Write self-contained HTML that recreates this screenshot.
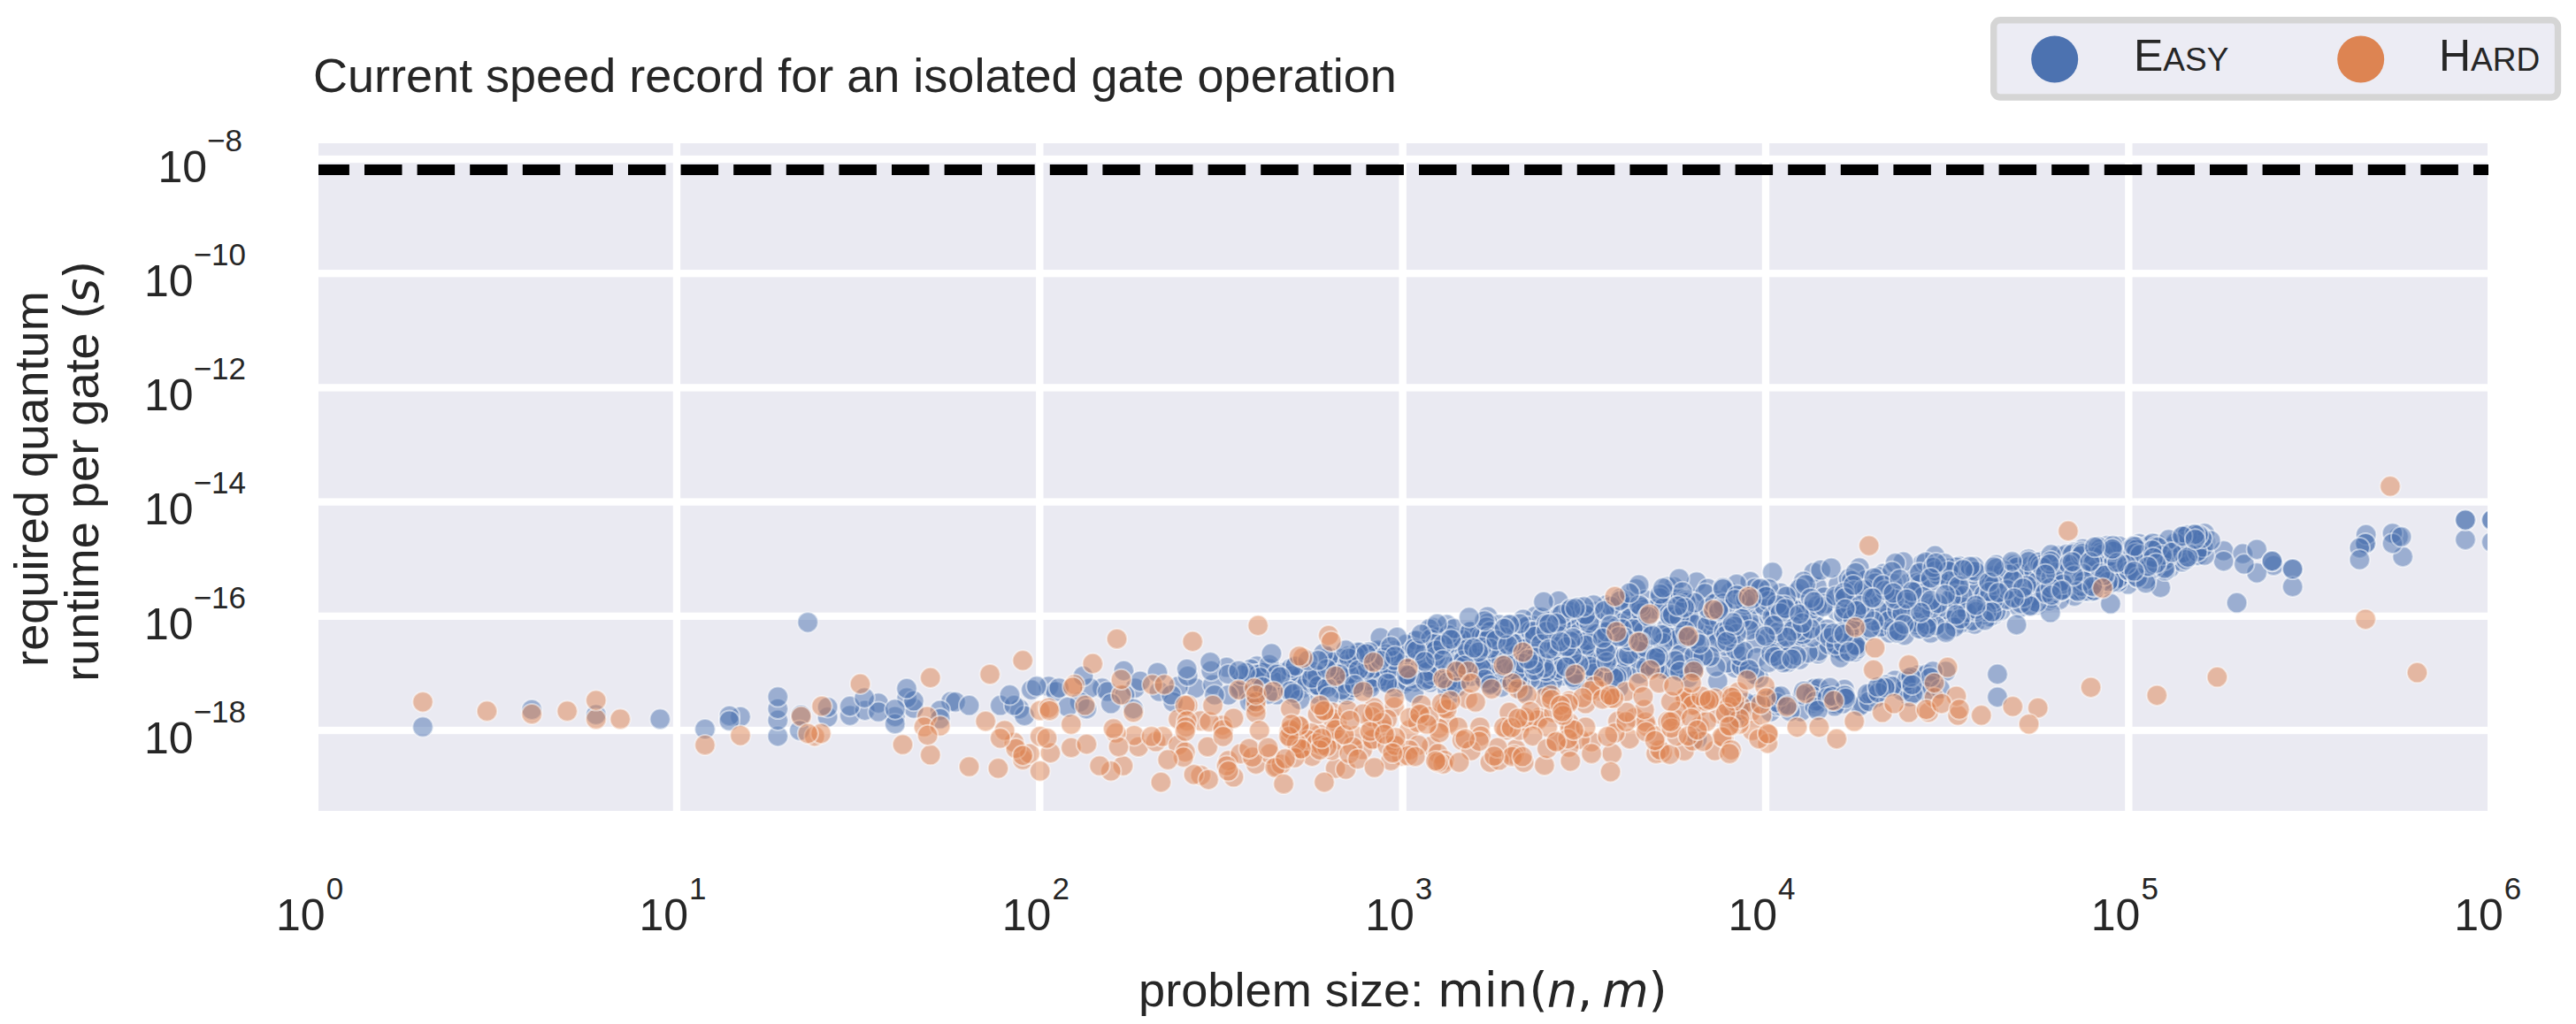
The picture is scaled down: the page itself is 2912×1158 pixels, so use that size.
<!DOCTYPE html>
<html><head><meta charset="utf-8"><style>
html,body{margin:0;padding:0;background:#fff;}
svg{display:block;}
text{font-family:"Liberation Sans", Arial, sans-serif;fill:#262626;}
.tk{font-size:50px;}
.sup{font-size:35px;}
.lab{font-size:54.2px;}
.ttl{font-size:54px;}
.dv{font-family:"DejaVu Sans", sans-serif;}
circle.b{fill:#4C72B0;fill-opacity:0.5;stroke:#fff;stroke-opacity:0.5;stroke-width:2;r:11.6px;}
circle.o{fill:#DD8452;fill-opacity:0.5;stroke:#fff;stroke-opacity:0.5;stroke-width:2;r:11.6px;}
</style></head><body>
<svg width="2912" height="1158" viewBox="0 0 2912 1158">
<defs><clipPath id="ax"><rect x="360" y="162" width="2452" height="755"/></clipPath></defs>
<rect x="360" y="162" width="2452" height="755" fill="#EAEAF2"/>
<rect x="360" y="175.85" width="2452" height="8.3" fill="#fff"/>
<rect x="360" y="305.05" width="2452" height="8.3" fill="#fff"/>
<rect x="360" y="434.25" width="2452" height="8.3" fill="#fff"/>
<rect x="360" y="563.45" width="2452" height="8.3" fill="#fff"/>
<rect x="360" y="692.65" width="2452" height="8.3" fill="#fff"/>
<rect x="360" y="821.85" width="2452" height="8.3" fill="#fff"/>
<rect x="760.75" y="162" width="8.4" height="755" fill="#fff"/>
<rect x="1171.10" y="162" width="8.4" height="755" fill="#fff"/>
<rect x="1581.45" y="162" width="8.4" height="755" fill="#fff"/>
<rect x="1991.80" y="162" width="8.4" height="755" fill="#fff"/>
<rect x="2402.15" y="162" width="8.4" height="755" fill="#fff"/>
<g clip-path="url(#ax)">
<circle class="b" cx="1640.6" cy="735.4" r="11.6"/>
<circle class="b" cx="1982.1" cy="697.4" r="11.6"/>
<circle class="b" cx="2024.8" cy="697.7" r="11.6"/>
<circle class="b" cx="2104.2" cy="679.9" r="11.6"/>
<circle class="b" cx="2267.8" cy="676.2" r="11.6"/>
<circle class="b" cx="1540.1" cy="743.8" r="11.6"/>
<circle class="b" cx="2098.9" cy="721.2" r="11.6"/>
<circle class="b" cx="2125.2" cy="710.1" r="11.6"/>
<circle class="b" cx="2123.2" cy="778.0" r="11.6"/>
<circle class="b" cx="2153.0" cy="682.6" r="11.6"/>
<circle class="b" cx="2284.6" cy="668.5" r="11.6"/>
<circle class="b" cx="2283.3" cy="669.9" r="11.6"/>
<circle class="b" cx="1961.7" cy="755.4" r="11.6"/>
<circle class="b" cx="2196.3" cy="643.8" r="11.6"/>
<circle class="b" cx="2142.1" cy="769.3" r="11.6"/>
<circle class="b" cx="2344.0" cy="658.5" r="11.6"/>
<circle class="b" cx="2375.6" cy="649.0" r="11.6"/>
<circle class="b" cx="1420.9" cy="753.0" r="11.6"/>
<circle class="b" cx="1892.2" cy="663.6" r="11.6"/>
<circle class="b" cx="2049.4" cy="795.4" r="11.6"/>
<circle class="b" cx="1634.6" cy="765.5" r="11.6"/>
<circle class="b" cx="1185.5" cy="776.2" r="11.6"/>
<circle class="b" cx="2181.2" cy="708.1" r="11.6"/>
<circle class="b" cx="2390.9" cy="654.9" r="11.6"/>
<circle class="b" cx="2160.4" cy="702.8" r="11.6"/>
<circle class="b" cx="2674.1" cy="614.6" r="11.6"/>
<circle class="b" cx="1401.8" cy="776.3" r="11.6"/>
<circle class="b" cx="2206.2" cy="649.3" r="11.6"/>
<circle class="b" cx="1735.5" cy="696.9" r="11.6"/>
<circle class="b" cx="1627.3" cy="745.7" r="11.6"/>
<circle class="b" cx="1721.0" cy="741.1" r="11.6"/>
<circle class="b" cx="1011.8" cy="810.3" r="11.6"/>
<circle class="b" cx="2173.1" cy="637.5" r="11.6"/>
<circle class="b" cx="1874.8" cy="733.2" r="11.6"/>
<circle class="b" cx="2155.6" cy="693.8" r="11.6"/>
<circle class="b" cx="2482.2" cy="615.4" r="11.6"/>
<circle class="b" cx="1766.7" cy="701.4" r="11.6"/>
<circle class="b" cx="2787.0" cy="610.3" r="11.6"/>
<circle class="b" cx="746.2" cy="813.2" r="11.6"/>
<circle class="b" cx="2326.6" cy="628.2" r="11.6"/>
<circle class="b" cx="2257.0" cy="687.4" r="11.6"/>
<circle class="b" cx="1246.0" cy="778.1" r="11.6"/>
<circle class="b" cx="1478.4" cy="760.5" r="11.6"/>
<circle class="b" cx="2232.8" cy="644.6" r="11.6"/>
<circle class="b" cx="1524.4" cy="741.6" r="11.6"/>
<circle class="b" cx="1462.8" cy="754.7" r="11.6"/>
<circle class="b" cx="1513.9" cy="764.0" r="11.6"/>
<circle class="b" cx="2293.4" cy="677.2" r="11.6"/>
<circle class="b" cx="2020.5" cy="725.3" r="11.6"/>
<circle class="b" cx="1657.7" cy="743.0" r="11.6"/>
<circle class="b" cx="1608.9" cy="741.8" r="11.6"/>
<circle class="b" cx="2388.8" cy="644.8" r="11.6"/>
<circle class="b" cx="1799.8" cy="726.2" r="11.6"/>
<circle class="b" cx="1636.7" cy="769.4" r="11.6"/>
<circle class="b" cx="2271.6" cy="657.0" r="11.6"/>
<circle class="b" cx="2001.4" cy="804.9" r="11.6"/>
<circle class="b" cx="2328.8" cy="651.6" r="11.6"/>
<circle class="b" cx="1991.1" cy="713.8" r="11.6"/>
<circle class="b" cx="1746.7" cy="749.7" r="11.6"/>
<circle class="b" cx="2478.5" cy="625.1" r="11.6"/>
<circle class="b" cx="2391.1" cy="640.1" r="11.6"/>
<circle class="b" cx="1351.5" cy="778.1" r="11.6"/>
<circle class="b" cx="2156.1" cy="660.2" r="11.6"/>
<circle class="b" cx="2426.9" cy="639.1" r="11.6"/>
<circle class="b" cx="1576.1" cy="768.4" r="11.6"/>
<circle class="b" cx="1577.5" cy="750.2" r="11.6"/>
<circle class="b" cx="1881.8" cy="756.8" r="11.6"/>
<circle class="b" cx="1824.8" cy="696.2" r="11.6"/>
<circle class="b" cx="2418.3" cy="614.9" r="11.6"/>
<circle class="b" cx="2244.7" cy="672.2" r="11.6"/>
<circle class="b" cx="2111.1" cy="669.9" r="11.6"/>
<circle class="b" cx="2275.8" cy="637.7" r="11.6"/>
<circle class="b" cx="2092.8" cy="688.4" r="11.6"/>
<circle class="b" cx="1788.1" cy="749.6" r="11.6"/>
<circle class="b" cx="1674.3" cy="765.6" r="11.6"/>
<circle class="b" cx="2209.8" cy="670.9" r="11.6"/>
<circle class="b" cx="1919.3" cy="731.7" r="11.6"/>
<circle class="b" cx="960.8" cy="809.1" r="11.6"/>
<circle class="b" cx="2365.6" cy="628.6" r="11.6"/>
<circle class="b" cx="2449.6" cy="631.6" r="11.6"/>
<circle class="b" cx="1620.2" cy="709.9" r="11.6"/>
<circle class="b" cx="1990.4" cy="677.9" r="11.6"/>
<circle class="b" cx="1641.1" cy="717.8" r="11.6"/>
<circle class="b" cx="2095.2" cy="728.2" r="11.6"/>
<circle class="b" cx="2085.0" cy="779.6" r="11.6"/>
<circle class="b" cx="2471.8" cy="618.3" r="11.6"/>
<circle class="b" cx="1844.6" cy="745.7" r="11.6"/>
<circle class="b" cx="1756.3" cy="741.5" r="11.6"/>
<circle class="b" cx="2414.0" cy="620.6" r="11.6"/>
<circle class="b" cx="1831.7" cy="715.9" r="11.6"/>
<circle class="b" cx="2493.2" cy="612.8" r="11.6"/>
<circle class="b" cx="1554.1" cy="748.6" r="11.6"/>
<circle class="b" cx="2342.4" cy="634.6" r="11.6"/>
<circle class="b" cx="1710.3" cy="727.7" r="11.6"/>
<circle class="b" cx="1883.4" cy="671.0" r="11.6"/>
<circle class="b" cx="1932.0" cy="743.1" r="11.6"/>
<circle class="b" cx="2082.6" cy="716.3" r="11.6"/>
<circle class="b" cx="1806.5" cy="764.4" r="11.6"/>
<circle class="b" cx="1685.1" cy="773.0" r="11.6"/>
<circle class="b" cx="2450.8" cy="625.7" r="11.6"/>
<circle class="b" cx="2251.7" cy="691.2" r="11.6"/>
<circle class="b" cx="2442.3" cy="664.4" r="11.6"/>
<circle class="b" cx="2470.1" cy="629.9" r="11.6"/>
<circle class="b" cx="1849.5" cy="665.8" r="11.6"/>
<circle class="b" cx="2199.6" cy="759.2" r="11.6"/>
<circle class="b" cx="1730.9" cy="751.2" r="11.6"/>
<circle class="b" cx="2078.0" cy="661.1" r="11.6"/>
<circle class="b" cx="2088.8" cy="694.5" r="11.6"/>
<circle class="b" cx="1711.2" cy="740.4" r="11.6"/>
<circle class="b" cx="1652.8" cy="743.8" r="11.6"/>
<circle class="b" cx="1515.5" cy="744.7" r="11.6"/>
<circle class="b" cx="2237.5" cy="679.3" r="11.6"/>
<circle class="b" cx="1912.9" cy="677.1" r="11.6"/>
<circle class="b" cx="1421.7" cy="780.5" r="11.6"/>
<circle class="b" cx="2146.2" cy="674.0" r="11.6"/>
<circle class="b" cx="2126.8" cy="779.8" r="11.6"/>
<circle class="b" cx="1838.9" cy="754.9" r="11.6"/>
<circle class="b" cx="1956.0" cy="669.9" r="11.6"/>
<circle class="b" cx="2477.8" cy="613.3" r="11.6"/>
<circle class="b" cx="1867.6" cy="716.9" r="11.6"/>
<circle class="b" cx="2225.0" cy="704.1" r="11.6"/>
<circle class="b" cx="1417.4" cy="772.1" r="11.6"/>
<circle class="b" cx="1960.2" cy="806.7" r="11.6"/>
<circle class="b" cx="1927.8" cy="707.9" r="11.6"/>
<circle class="b" cx="2004.9" cy="691.8" r="11.6"/>
<circle class="b" cx="1717.4" cy="713.9" r="11.6"/>
<circle class="b" cx="1896.0" cy="736.1" r="11.6"/>
<circle class="b" cx="1635.5" cy="706.3" r="11.6"/>
<circle class="b" cx="1713.7" cy="728.6" r="11.6"/>
<circle class="b" cx="1908.2" cy="696.8" r="11.6"/>
<circle class="b" cx="2492.1" cy="603.0" r="11.6"/>
<circle class="b" cx="1830.9" cy="747.3" r="11.6"/>
<circle class="b" cx="1853.2" cy="762.2" r="11.6"/>
<circle class="b" cx="2100.3" cy="658.1" r="11.6"/>
<circle class="b" cx="1885.0" cy="663.4" r="11.6"/>
<circle class="b" cx="935.6" cy="810.9" r="11.6"/>
<circle class="b" cx="1332.0" cy="776.2" r="11.6"/>
<circle class="b" cx="1419.7" cy="790.9" r="11.6"/>
<circle class="b" cx="2247.8" cy="659.1" r="11.6"/>
<circle class="b" cx="2435.7" cy="627.2" r="11.6"/>
<circle class="b" cx="2468.0" cy="620.0" r="11.6"/>
<circle class="b" cx="1757.4" cy="755.4" r="11.6"/>
<circle class="b" cx="1858.2" cy="747.7" r="11.6"/>
<circle class="b" cx="1725.6" cy="742.4" r="11.6"/>
<circle class="b" cx="2030.0" cy="670.3" r="11.6"/>
<circle class="b" cx="1075.0" cy="793.3" r="11.6"/>
<circle class="b" cx="1414.0" cy="756.6" r="11.6"/>
<circle class="b" cx="2308.4" cy="634.7" r="11.6"/>
<circle class="b" cx="2290.6" cy="641.8" r="11.6"/>
<circle class="b" cx="2478.1" cy="607.4" r="11.6"/>
<circle class="b" cx="2050.9" cy="693.5" r="11.6"/>
<circle class="b" cx="1979.3" cy="708.1" r="11.6"/>
<circle class="b" cx="1886.3" cy="693.6" r="11.6"/>
<circle class="b" cx="1708.2" cy="768.6" r="11.6"/>
<circle class="b" cx="2221.7" cy="685.2" r="11.6"/>
<circle class="b" cx="2396.4" cy="621.5" r="11.6"/>
<circle class="b" cx="2042.5" cy="691.3" r="11.6"/>
<circle class="b" cx="2354.5" cy="620.5" r="11.6"/>
<circle class="b" cx="2055.0" cy="739.5" r="11.6"/>
<circle class="b" cx="1984.7" cy="796.4" r="11.6"/>
<circle class="b" cx="1863.6" cy="753.6" r="11.6"/>
<circle class="b" cx="1615.6" cy="745.8" r="11.6"/>
<circle class="b" cx="1988.4" cy="766.4" r="11.6"/>
<circle class="b" cx="1739.7" cy="762.6" r="11.6"/>
<circle class="b" cx="2253.9" cy="695.3" r="11.6"/>
<circle class="b" cx="2446.5" cy="627.7" r="11.6"/>
<circle class="b" cx="2295.0" cy="644.8" r="11.6"/>
<circle class="b" cx="2478.9" cy="604.7" r="11.6"/>
<circle class="b" cx="2032.7" cy="718.4" r="11.6"/>
<circle class="b" cx="2035.7" cy="804.8" r="11.6"/>
<circle class="b" cx="905.5" cy="808.6" r="11.6"/>
<circle class="b" cx="2302.3" cy="677.1" r="11.6"/>
<circle class="b" cx="2128.9" cy="648.6" r="11.6"/>
<circle class="b" cx="1709.8" cy="763.0" r="11.6"/>
<circle class="b" cx="2168.6" cy="664.5" r="11.6"/>
<circle class="b" cx="1898.0" cy="676.6" r="11.6"/>
<circle class="b" cx="1544.4" cy="739.5" r="11.6"/>
<circle class="b" cx="2513.7" cy="622.9" r="11.6"/>
<circle class="b" cx="1665.5" cy="741.9" r="11.6"/>
<circle class="b" cx="2344.8" cy="624.6" r="11.6"/>
<circle class="b" cx="2379.6" cy="622.6" r="11.6"/>
<circle class="b" cx="2467.5" cy="627.8" r="11.6"/>
<circle class="b" cx="1850.1" cy="721.4" r="11.6"/>
<circle class="b" cx="1489.7" cy="786.0" r="11.6"/>
<circle class="b" cx="1796.2" cy="732.7" r="11.6"/>
<circle class="b" cx="2291.6" cy="640.3" r="11.6"/>
<circle class="b" cx="1193.3" cy="782.0" r="11.6"/>
<circle class="b" cx="1603.3" cy="768.3" r="11.6"/>
<circle class="b" cx="1829.8" cy="777.6" r="11.6"/>
<circle class="b" cx="1839.2" cy="700.2" r="11.6"/>
<circle class="b" cx="2013.4" cy="698.7" r="11.6"/>
<circle class="b" cx="2406.7" cy="626.1" r="11.6"/>
<circle class="b" cx="2034.4" cy="745.9" r="11.6"/>
<circle class="b" cx="1685.3" cy="754.2" r="11.6"/>
<circle class="b" cx="2014.1" cy="697.4" r="11.6"/>
<circle class="b" cx="2343.7" cy="667.8" r="11.6"/>
<circle class="b" cx="1583.0" cy="741.7" r="11.6"/>
<circle class="b" cx="2214.7" cy="640.1" r="11.6"/>
<circle class="b" cx="1890.2" cy="681.3" r="11.6"/>
<circle class="b" cx="2474.2" cy="627.4" r="11.6"/>
<circle class="b" cx="2090.9" cy="658.5" r="11.6"/>
<circle class="b" cx="1719.0" cy="752.3" r="11.6"/>
<circle class="b" cx="1917.9" cy="658.1" r="11.6"/>
<circle class="b" cx="1434.7" cy="756.0" r="11.6"/>
<circle class="b" cx="1032.9" cy="800.9" r="11.6"/>
<circle class="b" cx="1890.6" cy="723.0" r="11.6"/>
<circle class="b" cx="2251.0" cy="663.6" r="11.6"/>
<circle class="b" cx="2444.1" cy="641.5" r="11.6"/>
<circle class="b" cx="1618.1" cy="722.5" r="11.6"/>
<circle class="b" cx="1970.4" cy="672.8" r="11.6"/>
<circle class="b" cx="1670.7" cy="753.5" r="11.6"/>
<circle class="b" cx="1816.2" cy="684.0" r="11.6"/>
<circle class="b" cx="1706.3" cy="706.8" r="11.6"/>
<circle class="b" cx="2382.0" cy="640.8" r="11.6"/>
<circle class="b" cx="1992.7" cy="667.5" r="11.6"/>
<circle class="b" cx="2261.9" cy="690.6" r="11.6"/>
<circle class="b" cx="1805.6" cy="703.6" r="11.6"/>
<circle class="b" cx="2440.7" cy="620.4" r="11.6"/>
<circle class="b" cx="2018.7" cy="709.3" r="11.6"/>
<circle class="b" cx="1562.0" cy="768.1" r="11.6"/>
<circle class="b" cx="2056.2" cy="736.3" r="11.6"/>
<circle class="b" cx="1792.0" cy="701.6" r="11.6"/>
<circle class="b" cx="2294.3" cy="672.4" r="11.6"/>
<circle class="b" cx="1565.2" cy="769.3" r="11.6"/>
<circle class="b" cx="1907.3" cy="695.3" r="11.6"/>
<circle class="b" cx="2287.0" cy="681.5" r="11.6"/>
<circle class="b" cx="2448.2" cy="631.1" r="11.6"/>
<circle class="b" cx="1544.0" cy="737.9" r="11.6"/>
<circle class="b" cx="1451.1" cy="760.5" r="11.6"/>
<circle class="b" cx="1944.5" cy="718.2" r="11.6"/>
<circle class="b" cx="2463.7" cy="609.0" r="11.6"/>
<circle class="b" cx="2474.8" cy="618.1" r="11.6"/>
<circle class="b" cx="1659.7" cy="743.5" r="11.6"/>
<circle class="b" cx="1686.6" cy="736.5" r="11.6"/>
<circle class="b" cx="1778.4" cy="712.3" r="11.6"/>
<circle class="b" cx="2248.1" cy="697.2" r="11.6"/>
<circle class="b" cx="1801.1" cy="732.5" r="11.6"/>
<circle class="b" cx="1733.2" cy="707.4" r="11.6"/>
<circle class="b" cx="1978.5" cy="657.5" r="11.6"/>
<circle class="b" cx="2229.2" cy="658.3" r="11.6"/>
<circle class="b" cx="1870.6" cy="734.2" r="11.6"/>
<circle class="b" cx="2209.9" cy="650.5" r="11.6"/>
<circle class="b" cx="1945.8" cy="716.2" r="11.6"/>
<circle class="b" cx="1898.2" cy="654.3" r="11.6"/>
<circle class="b" cx="1780.2" cy="740.0" r="11.6"/>
<circle class="b" cx="1684.0" cy="747.9" r="11.6"/>
<circle class="b" cx="2250.8" cy="653.7" r="11.6"/>
<circle class="b" cx="2366.6" cy="642.5" r="11.6"/>
<circle class="b" cx="2484.2" cy="625.3" r="11.6"/>
<circle class="b" cx="1764.2" cy="759.6" r="11.6"/>
<circle class="b" cx="1764.8" cy="734.9" r="11.6"/>
<circle class="b" cx="2111.5" cy="713.6" r="11.6"/>
<circle class="b" cx="1995.8" cy="674.1" r="11.6"/>
<circle class="b" cx="2049.2" cy="779.3" r="11.6"/>
<circle class="b" cx="1830.9" cy="685.1" r="11.6"/>
<circle class="b" cx="1856.5" cy="730.5" r="11.6"/>
<circle class="b" cx="2024.9" cy="709.9" r="11.6"/>
<circle class="b" cx="2235.1" cy="668.9" r="11.6"/>
<circle class="b" cx="1824.4" cy="717.4" r="11.6"/>
<circle class="b" cx="1502.2" cy="752.6" r="11.6"/>
<circle class="b" cx="2206.7" cy="676.2" r="11.6"/>
<circle class="b" cx="2291.7" cy="681.5" r="11.6"/>
<circle class="b" cx="2057.9" cy="794.0" r="11.6"/>
<circle class="b" cx="2400.1" cy="647.0" r="11.6"/>
<circle class="b" cx="1863.3" cy="718.8" r="11.6"/>
<circle class="b" cx="2143.7" cy="716.1" r="11.6"/>
<circle class="b" cx="2152.8" cy="718.5" r="11.6"/>
<circle class="b" cx="1697.2" cy="777.1" r="11.6"/>
<circle class="b" cx="1568.4" cy="753.6" r="11.6"/>
<circle class="b" cx="1801.5" cy="729.6" r="11.6"/>
<circle class="b" cx="1744.7" cy="745.8" r="11.6"/>
<circle class="b" cx="2395.5" cy="617.5" r="11.6"/>
<circle class="b" cx="2079.6" cy="735.3" r="11.6"/>
<circle class="b" cx="2152.8" cy="778.3" r="11.6"/>
<circle class="b" cx="1593.9" cy="742.2" r="11.6"/>
<circle class="b" cx="2073.6" cy="794.1" r="11.6"/>
<circle class="b" cx="1933.0" cy="713.3" r="11.6"/>
<circle class="b" cx="2013.7" cy="698.0" r="11.6"/>
<circle class="b" cx="2485.8" cy="607.6" r="11.6"/>
<circle class="b" cx="1443.3" cy="785.7" r="11.6"/>
<circle class="b" cx="1681.7" cy="697.3" r="11.6"/>
<circle class="b" cx="2398.6" cy="655.3" r="11.6"/>
<circle class="b" cx="1666.9" cy="737.2" r="11.6"/>
<circle class="b" cx="1890.7" cy="710.5" r="11.6"/>
<circle class="b" cx="1683.7" cy="749.8" r="11.6"/>
<circle class="b" cx="2187.4" cy="628.4" r="11.6"/>
<circle class="b" cx="1844.9" cy="691.4" r="11.6"/>
<circle class="b" cx="1682.6" cy="759.2" r="11.6"/>
<circle class="b" cx="2075.0" cy="728.0" r="11.6"/>
<circle class="b" cx="2274.8" cy="644.0" r="11.6"/>
<circle class="b" cx="1773.2" cy="746.1" r="11.6"/>
<circle class="b" cx="1659.0" cy="744.8" r="11.6"/>
<circle class="b" cx="2324.1" cy="664.1" r="11.6"/>
<circle class="b" cx="2114.8" cy="668.8" r="11.6"/>
<circle class="b" cx="1654.3" cy="750.2" r="11.6"/>
<circle class="b" cx="1883.7" cy="710.4" r="11.6"/>
<circle class="b" cx="2105.9" cy="796.1" r="11.6"/>
<circle class="b" cx="837.0" cy="810.5" r="11.6"/>
<circle class="b" cx="2787.0" cy="588.1" r="11.6"/>
<circle class="b" cx="1371.0" cy="774.2" r="11.6"/>
<circle class="b" cx="2277.3" cy="639.2" r="11.6"/>
<circle class="b" cx="2317.6" cy="658.0" r="11.6"/>
<circle class="b" cx="1818.6" cy="717.6" r="11.6"/>
<circle class="b" cx="2201.1" cy="692.8" r="11.6"/>
<circle class="b" cx="2245.3" cy="682.7" r="11.6"/>
<circle class="b" cx="1533.4" cy="769.7" r="11.6"/>
<circle class="b" cx="1683.4" cy="710.7" r="11.6"/>
<circle class="b" cx="1996.9" cy="792.2" r="11.6"/>
<circle class="b" cx="1599.8" cy="771.4" r="11.6"/>
<circle class="b" cx="2243.0" cy="672.2" r="11.6"/>
<circle class="b" cx="2337.6" cy="646.3" r="11.6"/>
<circle class="b" cx="1796.7" cy="711.1" r="11.6"/>
<circle class="b" cx="1831.2" cy="704.4" r="11.6"/>
<circle class="b" cx="2816.8" cy="588.1" r="11.6"/>
<circle class="b" cx="2076.8" cy="691.3" r="11.6"/>
<circle class="b" cx="1968.2" cy="688.7" r="11.6"/>
<circle class="b" cx="2181.6" cy="708.3" r="11.6"/>
<circle class="b" cx="1941.8" cy="770.3" r="11.6"/>
<circle class="b" cx="1790.6" cy="768.2" r="11.6"/>
<circle class="b" cx="1640.7" cy="728.0" r="11.6"/>
<circle class="b" cx="1789.4" cy="727.4" r="11.6"/>
<circle class="b" cx="2067.4" cy="729.0" r="11.6"/>
<circle class="b" cx="2050.5" cy="784.2" r="11.6"/>
<circle class="b" cx="2311.3" cy="647.4" r="11.6"/>
<circle class="b" cx="1716.8" cy="731.8" r="11.6"/>
<circle class="b" cx="2044.0" cy="738.3" r="11.6"/>
<circle class="b" cx="1766.2" cy="764.3" r="11.6"/>
<circle class="b" cx="824.5" cy="809.5" r="11.6"/>
<circle class="b" cx="1957.2" cy="714.8" r="11.6"/>
<circle class="b" cx="1767.9" cy="697.3" r="11.6"/>
<circle class="b" cx="1598.7" cy="746.4" r="11.6"/>
<circle class="b" cx="2458.4" cy="613.2" r="11.6"/>
<circle class="b" cx="2466.4" cy="609.7" r="11.6"/>
<circle class="b" cx="1647.3" cy="765.9" r="11.6"/>
<circle class="b" cx="1767.3" cy="702.6" r="11.6"/>
<circle class="b" cx="2102.7" cy="698.3" r="11.6"/>
<circle class="b" cx="2259.5" cy="661.8" r="11.6"/>
<circle class="b" cx="913.2" cy="703.8" r="11.6"/>
<circle class="b" cx="1011.8" cy="818.5" r="11.6"/>
<circle class="b" cx="2384.1" cy="645.7" r="11.6"/>
<circle class="b" cx="2307.4" cy="650.2" r="11.6"/>
<circle class="b" cx="1822.6" cy="760.3" r="11.6"/>
<circle class="b" cx="1417.9" cy="762.5" r="11.6"/>
<circle class="b" cx="2054.1" cy="663.4" r="11.6"/>
<circle class="b" cx="2452.8" cy="642.3" r="11.6"/>
<circle class="b" cx="1999.0" cy="696.4" r="11.6"/>
<circle class="b" cx="1827.2" cy="761.3" r="11.6"/>
<circle class="b" cx="797.0" cy="824.5" r="11.6"/>
<circle class="b" cx="1556.8" cy="770.4" r="11.6"/>
<circle class="b" cx="2200.4" cy="642.4" r="11.6"/>
<circle class="b" cx="1467.2" cy="765.0" r="11.6"/>
<circle class="b" cx="1591.6" cy="754.8" r="11.6"/>
<circle class="b" cx="1961.6" cy="729.3" r="11.6"/>
<circle class="b" cx="2167.1" cy="705.3" r="11.6"/>
<circle class="b" cx="2466.7" cy="635.5" r="11.6"/>
<circle class="b" cx="2345.0" cy="674.2" r="11.6"/>
<circle class="b" cx="2176.3" cy="654.7" r="11.6"/>
<circle class="b" cx="2292.3" cy="680.1" r="11.6"/>
<circle class="b" cx="2570.1" cy="639.5" r="11.6"/>
<circle class="b" cx="1806.2" cy="740.8" r="11.6"/>
<circle class="b" cx="1562.6" cy="765.0" r="11.6"/>
<circle class="b" cx="2316.2" cy="633.7" r="11.6"/>
<circle class="b" cx="2464.3" cy="613.5" r="11.6"/>
<circle class="b" cx="2291.8" cy="640.9" r="11.6"/>
<circle class="b" cx="1723.2" cy="732.4" r="11.6"/>
<circle class="b" cx="1756.9" cy="740.0" r="11.6"/>
<circle class="b" cx="1848.9" cy="705.7" r="11.6"/>
<circle class="b" cx="1741.5" cy="770.3" r="11.6"/>
<circle class="b" cx="1735.0" cy="712.1" r="11.6"/>
<circle class="b" cx="2711.2" cy="607.0" r="11.6"/>
<circle class="b" cx="2299.1" cy="673.2" r="11.6"/>
<circle class="b" cx="1655.8" cy="728.7" r="11.6"/>
<circle class="b" cx="2317.9" cy="660.0" r="11.6"/>
<circle class="b" cx="2101.8" cy="642.1" r="11.6"/>
<circle class="b" cx="1616.5" cy="743.0" r="11.6"/>
<circle class="b" cx="1635.4" cy="763.9" r="11.6"/>
<circle class="b" cx="2354.5" cy="668.9" r="11.6"/>
<circle class="b" cx="1649.2" cy="754.1" r="11.6"/>
<circle class="b" cx="1764.7" cy="712.4" r="11.6"/>
<circle class="b" cx="2326.7" cy="668.8" r="11.6"/>
<circle class="b" cx="1818.6" cy="758.7" r="11.6"/>
<circle class="b" cx="1769.3" cy="732.4" r="11.6"/>
<circle class="b" cx="2041.0" cy="691.3" r="11.6"/>
<circle class="b" cx="1556.6" cy="737.1" r="11.6"/>
<circle class="b" cx="1560.8" cy="743.3" r="11.6"/>
<circle class="b" cx="2294.7" cy="676.7" r="11.6"/>
<circle class="b" cx="1743.8" cy="723.3" r="11.6"/>
<circle class="b" cx="2281.3" cy="677.3" r="11.6"/>
<circle class="b" cx="2164.8" cy="776.6" r="11.6"/>
<circle class="b" cx="2395.6" cy="632.3" r="11.6"/>
<circle class="b" cx="2258.0" cy="788.3" r="11.6"/>
<circle class="b" cx="1961.8" cy="812.3" r="11.6"/>
<circle class="b" cx="2027.6" cy="695.2" r="11.6"/>
<circle class="b" cx="2082.9" cy="681.2" r="11.6"/>
<circle class="b" cx="977.8" cy="803.3" r="11.6"/>
<circle class="b" cx="2281.2" cy="640.5" r="11.6"/>
<circle class="b" cx="2052.5" cy="707.6" r="11.6"/>
<circle class="b" cx="1649.4" cy="769.4" r="11.6"/>
<circle class="b" cx="1882.6" cy="717.7" r="11.6"/>
<circle class="b" cx="1580.4" cy="761.7" r="11.6"/>
<circle class="b" cx="2109.3" cy="655.9" r="11.6"/>
<circle class="b" cx="1427.7" cy="760.5" r="11.6"/>
<circle class="b" cx="2279.5" cy="641.5" r="11.6"/>
<circle class="b" cx="2016.3" cy="798.6" r="11.6"/>
<circle class="b" cx="2194.5" cy="653.2" r="11.6"/>
<circle class="b" cx="2347.0" cy="646.7" r="11.6"/>
<circle class="b" cx="2030.0" cy="689.9" r="11.6"/>
<circle class="b" cx="1694.6" cy="706.3" r="11.6"/>
<circle class="b" cx="960.8" cy="798.6" r="11.6"/>
<circle class="b" cx="2295.9" cy="644.4" r="11.6"/>
<circle class="b" cx="2172.9" cy="711.6" r="11.6"/>
<circle class="b" cx="1624.5" cy="759.4" r="11.6"/>
<circle class="b" cx="2084.1" cy="694.2" r="11.6"/>
<circle class="b" cx="1728.9" cy="748.6" r="11.6"/>
<circle class="b" cx="2328.1" cy="678.2" r="11.6"/>
<circle class="b" cx="1803.3" cy="691.4" r="11.6"/>
<circle class="b" cx="1535.1" cy="737.1" r="11.6"/>
<circle class="b" cx="1548.6" cy="774.2" r="11.6"/>
<circle class="b" cx="1838.6" cy="679.4" r="11.6"/>
<circle class="b" cx="1618.0" cy="717.9" r="11.6"/>
<circle class="b" cx="1905.3" cy="678.8" r="11.6"/>
<circle class="b" cx="2298.3" cy="654.1" r="11.6"/>
<circle class="b" cx="2309.7" cy="667.1" r="11.6"/>
<circle class="b" cx="2438.4" cy="615.2" r="11.6"/>
<circle class="b" cx="2435.9" cy="641.5" r="11.6"/>
<circle class="b" cx="1693.9" cy="757.5" r="11.6"/>
<circle class="b" cx="2488.7" cy="606.8" r="11.6"/>
<circle class="b" cx="2003.8" cy="647.2" r="11.6"/>
<circle class="b" cx="1470.6" cy="764.5" r="11.6"/>
<circle class="b" cx="1890.8" cy="697.0" r="11.6"/>
<circle class="b" cx="1592.3" cy="763.2" r="11.6"/>
<circle class="b" cx="1591.5" cy="737.9" r="11.6"/>
<circle class="b" cx="1755.2" cy="769.8" r="11.6"/>
<circle class="b" cx="2204.1" cy="642.5" r="11.6"/>
<circle class="b" cx="2250.9" cy="657.5" r="11.6"/>
<circle class="b" cx="2100.2" cy="676.9" r="11.6"/>
<circle class="b" cx="1557.9" cy="735.0" r="11.6"/>
<circle class="b" cx="2166.4" cy="648.9" r="11.6"/>
<circle class="b" cx="1880.3" cy="757.0" r="11.6"/>
<circle class="b" cx="2165.1" cy="691.4" r="11.6"/>
<circle class="b" cx="2704.6" cy="603.0" r="11.6"/>
<circle class="b" cx="1940.1" cy="718.3" r="11.6"/>
<circle class="b" cx="1762.6" cy="716.8" r="11.6"/>
<circle class="b" cx="1560.3" cy="721.1" r="11.6"/>
<circle class="b" cx="2412.2" cy="617.4" r="11.6"/>
<circle class="b" cx="1647.3" cy="745.3" r="11.6"/>
<circle class="b" cx="2447.4" cy="645.5" r="11.6"/>
<circle class="b" cx="1802.2" cy="745.8" r="11.6"/>
<circle class="b" cx="1726.0" cy="709.4" r="11.6"/>
<circle class="b" cx="1545.5" cy="748.8" r="11.6"/>
<circle class="b" cx="1831.7" cy="676.7" r="11.6"/>
<circle class="b" cx="1742.0" cy="750.6" r="11.6"/>
<circle class="b" cx="2422.4" cy="622.8" r="11.6"/>
<circle class="b" cx="1705.6" cy="765.5" r="11.6"/>
<circle class="b" cx="2347.8" cy="667.8" r="11.6"/>
<circle class="b" cx="1544.8" cy="770.3" r="11.6"/>
<circle class="b" cx="2047.2" cy="689.6" r="11.6"/>
<circle class="b" cx="2200.5" cy="656.7" r="11.6"/>
<circle class="b" cx="1152.3" cy="801.6" r="11.6"/>
<circle class="b" cx="1681.9" cy="714.1" r="11.6"/>
<circle class="b" cx="2167.2" cy="658.8" r="11.6"/>
<circle class="b" cx="1748.7" cy="777.5" r="11.6"/>
<circle class="b" cx="2463.7" cy="618.5" r="11.6"/>
<circle class="b" cx="2168.3" cy="763.4" r="11.6"/>
<circle class="b" cx="1402.6" cy="779.9" r="11.6"/>
<circle class="b" cx="1310.5" cy="782.0" r="11.6"/>
<circle class="b" cx="1578.0" cy="778.1" r="11.6"/>
<circle class="b" cx="1995.7" cy="673.0" r="11.6"/>
<circle class="b" cx="2087.8" cy="678.9" r="11.6"/>
<circle class="b" cx="1884.2" cy="756.7" r="11.6"/>
<circle class="b" cx="1942.6" cy="681.4" r="11.6"/>
<circle class="b" cx="2254.4" cy="650.8" r="11.6"/>
<circle class="b" cx="1791.4" cy="739.2" r="11.6"/>
<circle class="b" cx="1283.1" cy="778.1" r="11.6"/>
<circle class="b" cx="1771.1" cy="700.8" r="11.6"/>
<circle class="b" cx="2481.8" cy="628.2" r="11.6"/>
<circle class="b" cx="2200.9" cy="700.6" r="11.6"/>
<circle class="b" cx="2156.3" cy="766.8" r="11.6"/>
<circle class="b" cx="1721.9" cy="700.3" r="11.6"/>
<circle class="b" cx="2051.5" cy="778.3" r="11.6"/>
<circle class="b" cx="1552.9" cy="765.7" r="11.6"/>
<circle class="b" cx="2215.0" cy="650.0" r="11.6"/>
<circle class="b" cx="2405.6" cy="660.7" r="11.6"/>
<circle class="b" cx="2087.1" cy="735.0" r="11.6"/>
<circle class="b" cx="1820.9" cy="685.7" r="11.6"/>
<circle class="b" cx="2210.3" cy="662.4" r="11.6"/>
<circle class="b" cx="1605.6" cy="753.2" r="11.6"/>
<circle class="b" cx="1774.0" cy="693.1" r="11.6"/>
<circle class="b" cx="1507.5" cy="751.3" r="11.6"/>
<circle class="b" cx="1777.7" cy="749.9" r="11.6"/>
<circle class="b" cx="2249.4" cy="697.3" r="11.6"/>
<circle class="b" cx="1917.7" cy="726.5" r="11.6"/>
<circle class="b" cx="1795.9" cy="704.7" r="11.6"/>
<circle class="b" cx="1833.5" cy="761.2" r="11.6"/>
<circle class="b" cx="1682.0" cy="709.3" r="11.6"/>
<circle class="b" cx="1704.7" cy="768.9" r="11.6"/>
<circle class="b" cx="2716.2" cy="629.6" r="11.6"/>
<circle class="b" cx="2124.2" cy="675.8" r="11.6"/>
<circle class="b" cx="1743.1" cy="722.8" r="11.6"/>
<circle class="b" cx="1898.9" cy="755.7" r="11.6"/>
<circle class="b" cx="2330.0" cy="638.9" r="11.6"/>
<circle class="b" cx="1802.1" cy="745.8" r="11.6"/>
<circle class="b" cx="2135.3" cy="677.5" r="11.6"/>
<circle class="b" cx="879.3" cy="832.6" r="11.6"/>
<circle class="b" cx="2381.8" cy="617.2" r="11.6"/>
<circle class="b" cx="1652.9" cy="731.6" r="11.6"/>
<circle class="b" cx="2093.1" cy="684.3" r="11.6"/>
<circle class="b" cx="1878.7" cy="686.5" r="11.6"/>
<circle class="b" cx="993.0" cy="795.1" r="11.6"/>
<circle class="b" cx="1753.7" cy="700.1" r="11.6"/>
<circle class="b" cx="1551.2" cy="756.6" r="11.6"/>
<circle class="b" cx="2062.1" cy="675.0" r="11.6"/>
<circle class="b" cx="2056.4" cy="778.2" r="11.6"/>
<circle class="b" cx="1556.8" cy="743.3" r="11.6"/>
<circle class="b" cx="1983.8" cy="665.1" r="11.6"/>
<circle class="b" cx="1725.7" cy="708.2" r="11.6"/>
<circle class="b" cx="1422.0" cy="762.5" r="11.6"/>
<circle class="b" cx="2024.2" cy="729.6" r="11.6"/>
<circle class="b" cx="1860.0" cy="678.3" r="11.6"/>
<circle class="b" cx="2453.8" cy="627.6" r="11.6"/>
<circle class="b" cx="2089.6" cy="654.4" r="11.6"/>
<circle class="b" cx="879.3" cy="814.4" r="11.6"/>
<circle class="b" cx="1670.7" cy="722.8" r="11.6"/>
<circle class="b" cx="1863.5" cy="730.4" r="11.6"/>
<circle class="b" cx="1820.7" cy="742.0" r="11.6"/>
<circle class="b" cx="2421.7" cy="631.5" r="11.6"/>
<circle class="b" cx="1439.9" cy="770.5" r="11.6"/>
<circle class="b" cx="2394.1" cy="658.6" r="11.6"/>
<circle class="b" cx="1631.2" cy="725.8" r="11.6"/>
<circle class="b" cx="2295.9" cy="639.7" r="11.6"/>
<circle class="b" cx="2319.6" cy="673.7" r="11.6"/>
<circle class="b" cx="2471.4" cy="606.1" r="11.6"/>
<circle class="b" cx="2429.7" cy="616.5" r="11.6"/>
<circle class="b" cx="2480.0" cy="604.2" r="11.6"/>
<circle class="b" cx="1617.8" cy="767.8" r="11.6"/>
<circle class="b" cx="2066.2" cy="785.5" r="11.6"/>
<circle class="b" cx="478.0" cy="822.0" r="11.6"/>
<circle class="b" cx="2218.2" cy="644.2" r="11.6"/>
<circle class="b" cx="2303.2" cy="661.7" r="11.6"/>
<circle class="b" cx="1667.4" cy="740.6" r="11.6"/>
<circle class="b" cx="1863.2" cy="751.8" r="11.6"/>
<circle class="b" cx="1232.3" cy="778.1" r="11.6"/>
<circle class="b" cx="2157.6" cy="672.7" r="11.6"/>
<circle class="b" cx="2303.3" cy="683.8" r="11.6"/>
<circle class="b" cx="1945.6" cy="683.5" r="11.6"/>
<circle class="b" cx="1760.4" cy="758.4" r="11.6"/>
<circle class="b" cx="2089.7" cy="725.3" r="11.6"/>
<circle class="b" cx="2074.8" cy="796.1" r="11.6"/>
<circle class="b" cx="1657.7" cy="724.3" r="11.6"/>
<circle class="b" cx="1649.5" cy="722.8" r="11.6"/>
<circle class="b" cx="2102.2" cy="798.6" r="11.6"/>
<circle class="b" cx="2136.1" cy="715.8" r="11.6"/>
<circle class="b" cx="1950.6" cy="686.3" r="11.6"/>
<circle class="b" cx="1911.8" cy="699.7" r="11.6"/>
<circle class="b" cx="2245.6" cy="678.2" r="11.6"/>
<circle class="b" cx="1526.9" cy="751.1" r="11.6"/>
<circle class="b" cx="2256.2" cy="691.8" r="11.6"/>
<circle class="b" cx="1639.7" cy="729.7" r="11.6"/>
<circle class="b" cx="2316.2" cy="679.3" r="11.6"/>
<circle class="b" cx="1740.4" cy="718.4" r="11.6"/>
<circle class="b" cx="2395.3" cy="654.1" r="11.6"/>
<circle class="b" cx="2178.7" cy="682.6" r="11.6"/>
<circle class="b" cx="2187.5" cy="689.1" r="11.6"/>
<circle class="b" cx="1952.2" cy="749.7" r="11.6"/>
<circle class="b" cx="1778.1" cy="707.9" r="11.6"/>
<circle class="b" cx="2001.8" cy="736.0" r="11.6"/>
<circle class="b" cx="1742.6" cy="697.9" r="11.6"/>
<circle class="b" cx="2414.1" cy="618.6" r="11.6"/>
<circle class="b" cx="2123.9" cy="652.2" r="11.6"/>
<circle class="b" cx="2433.5" cy="614.4" r="11.6"/>
<circle class="b" cx="1685.3" cy="772.8" r="11.6"/>
<circle class="b" cx="1819.6" cy="715.7" r="11.6"/>
<circle class="b" cx="2063.1" cy="682.7" r="11.6"/>
<circle class="b" cx="2114.9" cy="672.8" r="11.6"/>
<circle class="b" cx="1729.9" cy="767.8" r="11.6"/>
<circle class="b" cx="2535.3" cy="626.2" r="11.6"/>
<circle class="b" cx="1510.5" cy="764.5" r="11.6"/>
<circle class="b" cx="2394.4" cy="653.9" r="11.6"/>
<circle class="b" cx="2256.6" cy="638.6" r="11.6"/>
<circle class="b" cx="1492.1" cy="778.1" r="11.6"/>
<circle class="b" cx="2491.1" cy="611.8" r="11.6"/>
<circle class="b" cx="2475.6" cy="613.5" r="11.6"/>
<circle class="b" cx="2182.4" cy="716.0" r="11.6"/>
<circle class="b" cx="1130.8" cy="797.7" r="11.6"/>
<circle class="b" cx="1726.4" cy="739.8" r="11.6"/>
<circle class="b" cx="2282.3" cy="648.4" r="11.6"/>
<circle class="b" cx="2271.5" cy="678.3" r="11.6"/>
<circle class="b" cx="2170.7" cy="660.6" r="11.6"/>
<circle class="b" cx="2283.0" cy="687.3" r="11.6"/>
<circle class="b" cx="1896.4" cy="757.1" r="11.6"/>
<circle class="b" cx="1784.7" cy="721.0" r="11.6"/>
<circle class="b" cx="2334.5" cy="640.4" r="11.6"/>
<circle class="b" cx="2040.3" cy="709.8" r="11.6"/>
<circle class="b" cx="2089.2" cy="723.4" r="11.6"/>
<circle class="b" cx="1804.3" cy="718.1" r="11.6"/>
<circle class="b" cx="1642.1" cy="721.4" r="11.6"/>
<circle class="b" cx="2083.9" cy="685.5" r="11.6"/>
<circle class="b" cx="2164.7" cy="669.4" r="11.6"/>
<circle class="b" cx="2008.2" cy="798.2" r="11.6"/>
<circle class="b" cx="2050.4" cy="647.3" r="11.6"/>
<circle class="b" cx="1918.6" cy="835.6" r="11.6"/>
<circle class="b" cx="2302.3" cy="636.0" r="11.6"/>
<circle class="b" cx="1509.7" cy="758.6" r="11.6"/>
<circle class="b" cx="2320.6" cy="658.2" r="11.6"/>
<circle class="b" cx="2154.6" cy="773.4" r="11.6"/>
<circle class="b" cx="1521.4" cy="785.9" r="11.6"/>
<circle class="b" cx="2457.1" cy="617.4" r="11.6"/>
<circle class="b" cx="1616.8" cy="771.7" r="11.6"/>
<circle class="b" cx="2007.2" cy="719.7" r="11.6"/>
<circle class="b" cx="2013.6" cy="798.5" r="11.6"/>
<circle class="b" cx="2178.0" cy="762.6" r="11.6"/>
<circle class="b" cx="2484.5" cy="617.2" r="11.6"/>
<circle class="b" cx="1857.7" cy="721.7" r="11.6"/>
<circle class="b" cx="2120.9" cy="788.8" r="11.6"/>
<circle class="b" cx="2007.6" cy="787.3" r="11.6"/>
<circle class="b" cx="2444.1" cy="623.5" r="11.6"/>
<circle class="b" cx="1811.4" cy="745.9" r="11.6"/>
<circle class="b" cx="2336.1" cy="626.8" r="11.6"/>
<circle class="b" cx="1270.4" cy="758.6" r="11.6"/>
<circle class="b" cx="2218.4" cy="689.6" r="11.6"/>
<circle class="b" cx="2446.8" cy="633.5" r="11.6"/>
<circle class="b" cx="1935.8" cy="701.9" r="11.6"/>
<circle class="b" cx="2513.7" cy="634.6" r="11.6"/>
<circle class="b" cx="2374.0" cy="646.9" r="11.6"/>
<circle class="b" cx="2357.0" cy="657.4" r="11.6"/>
<circle class="b" cx="1576.3" cy="735.8" r="11.6"/>
<circle class="b" cx="2000.6" cy="692.2" r="11.6"/>
<circle class="b" cx="2468.8" cy="612.8" r="11.6"/>
<circle class="b" cx="1537.0" cy="758.6" r="11.6"/>
<circle class="b" cx="1876.2" cy="676.0" r="11.6"/>
<circle class="b" cx="1640.5" cy="736.4" r="11.6"/>
<circle class="b" cx="1025.2" cy="789.2" r="11.6"/>
<circle class="b" cx="1547.8" cy="737.3" r="11.6"/>
<circle class="b" cx="2437.6" cy="639.0" r="11.6"/>
<circle class="b" cx="2002.4" cy="688.7" r="11.6"/>
<circle class="b" cx="1843.0" cy="686.2" r="11.6"/>
<circle class="b" cx="1720.7" cy="724.4" r="11.6"/>
<circle class="b" cx="2181.9" cy="658.5" r="11.6"/>
<circle class="b" cx="1080.0" cy="793.8" r="11.6"/>
<circle class="b" cx="2265.1" cy="654.7" r="11.6"/>
<circle class="b" cx="1784.0" cy="686.7" r="11.6"/>
<circle class="b" cx="2167.0" cy="706.6" r="11.6"/>
<circle class="b" cx="2085.7" cy="730.8" r="11.6"/>
<circle class="b" cx="1851.8" cy="744.8" r="11.6"/>
<circle class="b" cx="1326.1" cy="793.8" r="11.6"/>
<circle class="b" cx="1915.4" cy="706.0" r="11.6"/>
<circle class="b" cx="2318.8" cy="676.3" r="11.6"/>
<circle class="b" cx="2382.5" cy="661.4" r="11.6"/>
<circle class="b" cx="2309.2" cy="642.6" r="11.6"/>
<circle class="b" cx="1730.1" cy="713.5" r="11.6"/>
<circle class="b" cx="1570.8" cy="773.3" r="11.6"/>
<circle class="b" cx="2185.0" cy="759.1" r="11.6"/>
<circle class="b" cx="1615.8" cy="768.4" r="11.6"/>
<circle class="b" cx="2232.2" cy="705.8" r="11.6"/>
<circle class="b" cx="2128.4" cy="704.1" r="11.6"/>
<circle class="b" cx="1459.9" cy="764.3" r="11.6"/>
<circle class="b" cx="2434.1" cy="642.9" r="11.6"/>
<circle class="b" cx="1977.3" cy="701.5" r="11.6"/>
<circle class="b" cx="2066.0" cy="711.7" r="11.6"/>
<circle class="b" cx="993.0" cy="805.0" r="11.6"/>
<circle class="b" cx="1939.6" cy="754.2" r="11.6"/>
<circle class="b" cx="1459.4" cy="755.6" r="11.6"/>
<circle class="b" cx="1963.1" cy="660.5" r="11.6"/>
<circle class="b" cx="2049.0" cy="787.0" r="11.6"/>
<circle class="b" cx="2155.5" cy="683.5" r="11.6"/>
<circle class="b" cx="2206.2" cy="701.2" r="11.6"/>
<circle class="b" cx="2188.6" cy="708.0" r="11.6"/>
<circle class="b" cx="2177.0" cy="635.5" r="11.6"/>
<circle class="b" cx="2116.4" cy="695.7" r="11.6"/>
<circle class="b" cx="1648.6" cy="753.5" r="11.6"/>
<circle class="b" cx="1792.9" cy="703.3" r="11.6"/>
<circle class="b" cx="2230.4" cy="649.6" r="11.6"/>
<circle class="b" cx="1683.9" cy="742.2" r="11.6"/>
<circle class="b" cx="1969.1" cy="754.0" r="11.6"/>
<circle class="b" cx="2411.4" cy="643.6" r="11.6"/>
<circle class="b" cx="1605.9" cy="739.2" r="11.6"/>
<circle class="b" cx="2417.9" cy="644.9" r="11.6"/>
<circle class="b" cx="1576.7" cy="742.9" r="11.6"/>
<circle class="b" cx="1696.0" cy="754.7" r="11.6"/>
<circle class="b" cx="1158.1" cy="809.4" r="11.6"/>
<circle class="b" cx="1434.9" cy="751.6" r="11.6"/>
<circle class="b" cx="1519.4" cy="774.0" r="11.6"/>
<circle class="b" cx="2308.9" cy="648.5" r="11.6"/>
<circle class="b" cx="1696.7" cy="767.2" r="11.6"/>
<circle class="b" cx="2142.9" cy="667.8" r="11.6"/>
<circle class="b" cx="2405.2" cy="630.9" r="11.6"/>
<circle class="b" cx="1417.0" cy="793.0" r="11.6"/>
<circle class="b" cx="1949.9" cy="730.6" r="11.6"/>
<circle class="b" cx="2316.2" cy="658.8" r="11.6"/>
<circle class="b" cx="1780.0" cy="746.9" r="11.6"/>
<circle class="b" cx="2037.8" cy="786.0" r="11.6"/>
<circle class="b" cx="1973.9" cy="794.6" r="11.6"/>
<circle class="b" cx="2126.0" cy="708.9" r="11.6"/>
<circle class="b" cx="1587.5" cy="773.4" r="11.6"/>
<circle class="b" cx="1663.3" cy="714.3" r="11.6"/>
<circle class="b" cx="1734.0" cy="713.9" r="11.6"/>
<circle class="b" cx="1688.8" cy="755.1" r="11.6"/>
<circle class="b" cx="1737.1" cy="740.4" r="11.6"/>
<circle class="b" cx="1502.1" cy="742.9" r="11.6"/>
<circle class="b" cx="1908.4" cy="720.6" r="11.6"/>
<circle class="b" cx="2038.8" cy="657.3" r="11.6"/>
<circle class="b" cx="1856.9" cy="726.2" r="11.6"/>
<circle class="b" cx="2591.7" cy="643.5" r="11.6"/>
<circle class="b" cx="1690.2" cy="738.5" r="11.6"/>
<circle class="b" cx="2029.0" cy="689.3" r="11.6"/>
<circle class="b" cx="1676.4" cy="767.4" r="11.6"/>
<circle class="b" cx="2415.6" cy="618.3" r="11.6"/>
<circle class="b" cx="2012.2" cy="733.0" r="11.6"/>
<circle class="b" cx="2115.1" cy="784.3" r="11.6"/>
<circle class="b" cx="2151.5" cy="635.3" r="11.6"/>
<circle class="b" cx="2076.4" cy="733.3" r="11.6"/>
<circle class="b" cx="1455.0" cy="780.1" r="11.6"/>
<circle class="b" cx="1095.6" cy="797.7" r="11.6"/>
<circle class="b" cx="2141.0" cy="695.2" r="11.6"/>
<circle class="b" cx="1460.9" cy="785.9" r="11.6"/>
<circle class="b" cx="2385.9" cy="682.7" r="11.6"/>
<circle class="b" cx="2096.4" cy="723.9" r="11.6"/>
<circle class="b" cx="1966.5" cy="702.6" r="11.6"/>
<circle class="b" cx="1710.4" cy="737.1" r="11.6"/>
<circle class="b" cx="2190.2" cy="688.4" r="11.6"/>
<circle class="b" cx="1831.5" cy="679.3" r="11.6"/>
<circle class="b" cx="1930.7" cy="665.5" r="11.6"/>
<circle class="b" cx="977.2" cy="789.2" r="11.6"/>
<circle class="b" cx="2412.4" cy="640.6" r="11.6"/>
<circle class="b" cx="1615.4" cy="752.3" r="11.6"/>
<circle class="b" cx="2408.2" cy="621.2" r="11.6"/>
<circle class="b" cx="1842.8" cy="699.1" r="11.6"/>
<circle class="b" cx="1906.1" cy="681.2" r="11.6"/>
<circle class="b" cx="2374.9" cy="619.6" r="11.6"/>
<circle class="b" cx="2170.0" cy="647.5" r="11.6"/>
<circle class="b" cx="2213.7" cy="663.4" r="11.6"/>
<circle class="b" cx="1251.9" cy="782.0" r="11.6"/>
<circle class="b" cx="2090.8" cy="726.5" r="11.6"/>
<circle class="b" cx="1640.1" cy="785.0" r="11.6"/>
<circle class="b" cx="2354.4" cy="651.4" r="11.6"/>
<circle class="b" cx="2317.8" cy="692.7" r="11.6"/>
<circle class="b" cx="2468.8" cy="606.2" r="11.6"/>
<circle class="b" cx="1682.4" cy="712.7" r="11.6"/>
<circle class="b" cx="1533.2" cy="777.3" r="11.6"/>
<circle class="b" cx="1664.5" cy="732.7" r="11.6"/>
<circle class="b" cx="1624.6" cy="720.4" r="11.6"/>
<circle class="b" cx="2354.7" cy="651.6" r="11.6"/>
<circle class="b" cx="1720.2" cy="741.9" r="11.6"/>
<circle class="b" cx="2139.5" cy="659.2" r="11.6"/>
<circle class="b" cx="2112.7" cy="793.3" r="11.6"/>
<circle class="b" cx="1973.6" cy="755.9" r="11.6"/>
<circle class="b" cx="2012.8" cy="670.6" r="11.6"/>
<circle class="b" cx="1624.8" cy="743.9" r="11.6"/>
<circle class="b" cx="1702.0" cy="730.8" r="11.6"/>
<circle class="b" cx="1679.7" cy="728.3" r="11.6"/>
<circle class="b" cx="1968.3" cy="753.0" r="11.6"/>
<circle class="b" cx="2008.4" cy="794.6" r="11.6"/>
<circle class="b" cx="2433.9" cy="629.9" r="11.6"/>
<circle class="b" cx="1521.7" cy="782.7" r="11.6"/>
<circle class="b" cx="2190.9" cy="650.6" r="11.6"/>
<circle class="b" cx="2023.6" cy="804.6" r="11.6"/>
<circle class="b" cx="1703.0" cy="747.5" r="11.6"/>
<circle class="b" cx="601.2" cy="802.5" r="11.6"/>
<circle class="b" cx="2342.8" cy="626.7" r="11.6"/>
<circle class="b" cx="1532.5" cy="769.0" r="11.6"/>
<circle class="b" cx="1852.9" cy="706.3" r="11.6"/>
<circle class="b" cx="1756.3" cy="730.6" r="11.6"/>
<circle class="b" cx="2367.6" cy="624.7" r="11.6"/>
<circle class="b" cx="1688.0" cy="759.1" r="11.6"/>
<circle class="b" cx="1767.0" cy="701.1" r="11.6"/>
<circle class="b" cx="1666.7" cy="754.8" r="11.6"/>
<circle class="b" cx="1624.3" cy="760.8" r="11.6"/>
<circle class="b" cx="1819.5" cy="721.8" r="11.6"/>
<circle class="b" cx="1663.0" cy="764.8" r="11.6"/>
<circle class="b" cx="1927.4" cy="671.2" r="11.6"/>
<circle class="b" cx="1984.4" cy="683.4" r="11.6"/>
<circle class="b" cx="1672.4" cy="715.6" r="11.6"/>
<circle class="b" cx="1777.2" cy="733.1" r="11.6"/>
<circle class="b" cx="1620.2" cy="746.9" r="11.6"/>
<circle class="b" cx="1994.5" cy="685.3" r="11.6"/>
<circle class="b" cx="2022.0" cy="685.1" r="11.6"/>
<circle class="b" cx="2379.7" cy="640.4" r="11.6"/>
<circle class="b" cx="1941.3" cy="726.4" r="11.6"/>
<circle class="b" cx="2317.9" cy="655.5" r="11.6"/>
<circle class="b" cx="1524.3" cy="772.5" r="11.6"/>
<circle class="b" cx="2219.6" cy="700.1" r="11.6"/>
<circle class="b" cx="2345.3" cy="647.4" r="11.6"/>
<circle class="b" cx="2356.1" cy="651.5" r="11.6"/>
<circle class="b" cx="2389.6" cy="657.8" r="11.6"/>
<circle class="b" cx="1956.9" cy="716.0" r="11.6"/>
<circle class="b" cx="1736.7" cy="748.7" r="11.6"/>
<circle class="b" cx="1781.0" cy="701.2" r="11.6"/>
<circle class="b" cx="2459.0" cy="614.0" r="11.6"/>
<circle class="b" cx="2107.1" cy="683.6" r="11.6"/>
<circle class="b" cx="1507.8" cy="748.7" r="11.6"/>
<circle class="b" cx="1747.8" cy="705.7" r="11.6"/>
<circle class="b" cx="1599.7" cy="724.5" r="11.6"/>
<circle class="b" cx="2209.6" cy="672.0" r="11.6"/>
<circle class="b" cx="1761.8" cy="679.6" r="11.6"/>
<circle class="b" cx="2333.8" cy="656.2" r="11.6"/>
<circle class="b" cx="2293.0" cy="632.1" r="11.6"/>
<circle class="b" cx="2093.9" cy="708.3" r="11.6"/>
<circle class="b" cx="1714.3" cy="768.8" r="11.6"/>
<circle class="b" cx="1999.4" cy="665.8" r="11.6"/>
<circle class="b" cx="2037.4" cy="720.4" r="11.6"/>
<circle class="b" cx="1647.8" cy="748.6" r="11.6"/>
<circle class="b" cx="2362.2" cy="669.0" r="11.6"/>
<circle class="b" cx="2344.7" cy="636.2" r="11.6"/>
<circle class="b" cx="1615.8" cy="711.1" r="11.6"/>
<circle class="b" cx="2264.8" cy="644.9" r="11.6"/>
<circle class="b" cx="2406.1" cy="645.6" r="11.6"/>
<circle class="b" cx="2211.7" cy="641.3" r="11.6"/>
<circle class="b" cx="1570.7" cy="756.8" r="11.6"/>
<circle class="b" cx="2254.5" cy="680.9" r="11.6"/>
<circle class="b" cx="2485.1" cy="627.8" r="11.6"/>
<circle class="b" cx="2255.2" cy="680.8" r="11.6"/>
<circle class="b" cx="2119.6" cy="659.3" r="11.6"/>
<circle class="b" cx="2027.7" cy="696.0" r="11.6"/>
<circle class="b" cx="2551.2" cy="647.8" r="11.6"/>
<circle class="b" cx="1797.4" cy="695.7" r="11.6"/>
<circle class="b" cx="2132.6" cy="698.3" r="11.6"/>
<circle class="b" cx="2187.4" cy="645.6" r="11.6"/>
<circle class="b" cx="1684.2" cy="719.6" r="11.6"/>
<circle class="b" cx="2383.5" cy="629.6" r="11.6"/>
<circle class="b" cx="1803.1" cy="710.8" r="11.6"/>
<circle class="b" cx="1628.6" cy="732.2" r="11.6"/>
<circle class="b" cx="2312.6" cy="671.7" r="11.6"/>
<circle class="b" cx="2136.7" cy="667.6" r="11.6"/>
<circle class="b" cx="1899.3" cy="683.5" r="11.6"/>
<circle class="b" cx="2048.9" cy="720.4" r="11.6"/>
<circle class="b" cx="2437.5" cy="617.9" r="11.6"/>
<circle class="b" cx="1791.1" cy="699.3" r="11.6"/>
<circle class="b" cx="2039.1" cy="781.5" r="11.6"/>
<circle class="b" cx="1997.9" cy="721.6" r="11.6"/>
<circle class="b" cx="2021.1" cy="749.0" r="11.6"/>
<circle class="b" cx="2388.4" cy="620.4" r="11.6"/>
<circle class="b" cx="2149.3" cy="672.8" r="11.6"/>
<circle class="b" cx="1271.4" cy="785.9" r="11.6"/>
<circle class="b" cx="1682.0" cy="704.6" r="11.6"/>
<circle class="b" cx="2365.5" cy="668.6" r="11.6"/>
<circle class="b" cx="2299.2" cy="645.5" r="11.6"/>
<circle class="b" cx="1686.2" cy="751.2" r="11.6"/>
<circle class="b" cx="2296.0" cy="685.0" r="11.6"/>
<circle class="b" cx="1574.9" cy="739.0" r="11.6"/>
<circle class="b" cx="1636.0" cy="779.8" r="11.6"/>
<circle class="b" cx="1659.2" cy="718.7" r="11.6"/>
<circle class="b" cx="1807.5" cy="763.7" r="11.6"/>
<circle class="b" cx="1591.2" cy="770.8" r="11.6"/>
<circle class="b" cx="1645.9" cy="721.6" r="11.6"/>
<circle class="b" cx="1532.9" cy="754.4" r="11.6"/>
<circle class="b" cx="1860.8" cy="688.7" r="11.6"/>
<circle class="b" cx="1623.3" cy="734.9" r="11.6"/>
<circle class="b" cx="2136.3" cy="692.2" r="11.6"/>
<circle class="b" cx="1668.4" cy="737.0" r="11.6"/>
<circle class="b" cx="2487.4" cy="622.3" r="11.6"/>
<circle class="b" cx="1817.8" cy="731.1" r="11.6"/>
<circle class="b" cx="2450.4" cy="623.8" r="11.6"/>
<circle class="b" cx="1714.6" cy="740.5" r="11.6"/>
<circle class="b" cx="2215.8" cy="705.1" r="11.6"/>
<circle class="b" cx="1813.4" cy="731.2" r="11.6"/>
<circle class="b" cx="2302.8" cy="657.8" r="11.6"/>
<circle class="b" cx="1998.9" cy="679.7" r="11.6"/>
<circle class="b" cx="2141.0" cy="712.8" r="11.6"/>
<circle class="b" cx="1668.2" cy="752.7" r="11.6"/>
<circle class="b" cx="1794.0" cy="697.1" r="11.6"/>
<circle class="b" cx="1899.3" cy="718.1" r="11.6"/>
<circle class="b" cx="1817.7" cy="712.9" r="11.6"/>
<circle class="b" cx="2373.9" cy="620.8" r="11.6"/>
<circle class="b" cx="2302.7" cy="681.5" r="11.6"/>
<circle class="b" cx="2816.8" cy="588.1" r="11.6"/>
<circle class="b" cx="2271.4" cy="649.4" r="11.6"/>
<circle class="b" cx="2591.7" cy="663.4" r="11.6"/>
<circle class="b" cx="2674.7" cy="604.7" r="11.6"/>
<circle class="b" cx="1985.0" cy="727.5" r="11.6"/>
<circle class="b" cx="2082.8" cy="795.9" r="11.6"/>
<circle class="b" cx="2132.4" cy="774.2" r="11.6"/>
<circle class="b" cx="1900.2" cy="683.9" r="11.6"/>
<circle class="b" cx="2303.7" cy="635.9" r="11.6"/>
<circle class="b" cx="2095.1" cy="726.1" r="11.6"/>
<circle class="b" cx="2377.8" cy="657.1" r="11.6"/>
<circle class="b" cx="2227.5" cy="645.4" r="11.6"/>
<circle class="b" cx="1600.8" cy="724.0" r="11.6"/>
<circle class="b" cx="2352.9" cy="623.9" r="11.6"/>
<circle class="b" cx="2472.5" cy="605.1" r="11.6"/>
<circle class="b" cx="1932.6" cy="695.8" r="11.6"/>
<circle class="b" cx="2142.6" cy="636.8" r="11.6"/>
<circle class="b" cx="1617.7" cy="757.7" r="11.6"/>
<circle class="b" cx="1653.5" cy="723.5" r="11.6"/>
<circle class="b" cx="1723.5" cy="733.7" r="11.6"/>
<circle class="b" cx="1324.1" cy="785.9" r="11.6"/>
<circle class="b" cx="1403.8" cy="763.7" r="11.6"/>
<circle class="b" cx="1735.2" cy="739.1" r="11.6"/>
<circle class="b" cx="1801.3" cy="756.9" r="11.6"/>
<circle class="b" cx="1870.6" cy="688.9" r="11.6"/>
<circle class="b" cx="2536.9" cy="637.9" r="11.6"/>
<circle class="b" cx="2306.3" cy="638.8" r="11.6"/>
<circle class="b" cx="2093.3" cy="656.3" r="11.6"/>
<circle class="b" cx="2096.4" cy="737.4" r="11.6"/>
<circle class="b" cx="1837.2" cy="742.1" r="11.6"/>
<circle class="b" cx="2200.9" cy="712.3" r="11.6"/>
<circle class="b" cx="1755.6" cy="750.8" r="11.6"/>
<circle class="b" cx="2179.6" cy="698.6" r="11.6"/>
<circle class="b" cx="1676.8" cy="766.5" r="11.6"/>
<circle class="b" cx="1773.3" cy="695.7" r="11.6"/>
<circle class="b" cx="2054.3" cy="684.8" r="11.6"/>
<circle class="b" cx="2321.6" cy="662.0" r="11.6"/>
<circle class="b" cx="2156.3" cy="681.1" r="11.6"/>
<circle class="b" cx="2188.1" cy="707.6" r="11.6"/>
<circle class="b" cx="1567.8" cy="739.5" r="11.6"/>
<circle class="b" cx="1734.8" cy="719.7" r="11.6"/>
<circle class="b" cx="1619.2" cy="763.5" r="11.6"/>
<circle class="b" cx="2467.4" cy="625.5" r="11.6"/>
<circle class="b" cx="2318.5" cy="627.2" r="11.6"/>
<circle class="b" cx="2083.7" cy="737.6" r="11.6"/>
<circle class="b" cx="1497.8" cy="774.3" r="11.6"/>
<circle class="b" cx="1759.6" cy="730.8" r="11.6"/>
<circle class="b" cx="2140.9" cy="674.7" r="11.6"/>
<circle class="b" cx="1916.7" cy="749.8" r="11.6"/>
<circle class="b" cx="1548.8" cy="778.1" r="11.6"/>
<circle class="b" cx="2141.4" cy="775.8" r="11.6"/>
<circle class="b" cx="2247.5" cy="656.7" r="11.6"/>
<circle class="b" cx="1937.5" cy="691.2" r="11.6"/>
<circle class="b" cx="1636.8" cy="753.9" r="11.6"/>
<circle class="b" cx="2551.2" cy="621.3" r="11.6"/>
<circle class="b" cx="1854.7" cy="735.2" r="11.6"/>
<circle class="b" cx="2268.4" cy="678.2" r="11.6"/>
<circle class="b" cx="1437.4" cy="739.1" r="11.6"/>
<circle class="b" cx="1764.7" cy="706.2" r="11.6"/>
<circle class="b" cx="1871.0" cy="755.3" r="11.6"/>
<circle class="b" cx="2492.1" cy="627.9" r="11.6"/>
<circle class="b" cx="2097.7" cy="647.5" r="11.6"/>
<circle class="b" cx="2490.7" cy="618.7" r="11.6"/>
<circle class="b" cx="2704.6" cy="614.6" r="11.6"/>
<circle class="b" cx="2005.8" cy="698.1" r="11.6"/>
<circle class="b" cx="2231.9" cy="640.7" r="11.6"/>
<circle class="b" cx="2451.5" cy="610.2" r="11.6"/>
<circle class="b" cx="1652.6" cy="758.8" r="11.6"/>
<circle class="b" cx="2439.4" cy="618.9" r="11.6"/>
<circle class="b" cx="1990.2" cy="665.5" r="11.6"/>
<circle class="b" cx="1443.3" cy="762.5" r="11.6"/>
<circle class="b" cx="1827.7" cy="765.8" r="11.6"/>
<circle class="b" cx="2367.1" cy="660.1" r="11.6"/>
<circle class="b" cx="2365.9" cy="656.1" r="11.6"/>
<circle class="b" cx="1543.9" cy="757.3" r="11.6"/>
<circle class="b" cx="2376.6" cy="651.8" r="11.6"/>
<circle class="b" cx="1062.7" cy="803.3" r="11.6"/>
<circle class="b" cx="1618.1" cy="735.4" r="11.6"/>
<circle class="b" cx="1424.4" cy="765.8" r="11.6"/>
<circle class="b" cx="1880.7" cy="687.0" r="11.6"/>
<circle class="b" cx="2003.7" cy="697.4" r="11.6"/>
<circle class="b" cx="1820.4" cy="710.0" r="11.6"/>
<circle class="b" cx="1801.8" cy="761.4" r="11.6"/>
<circle class="b" cx="1607.8" cy="745.3" r="11.6"/>
<circle class="b" cx="2166.5" cy="703.6" r="11.6"/>
<circle class="b" cx="2343.4" cy="645.8" r="11.6"/>
<circle class="b" cx="2097.1" cy="731.7" r="11.6"/>
<circle class="b" cx="2083.0" cy="673.8" r="11.6"/>
<circle class="b" cx="2358.6" cy="668.4" r="11.6"/>
<circle class="b" cx="1942.0" cy="679.4" r="11.6"/>
<circle class="b" cx="2498.8" cy="611.3" r="11.6"/>
<circle class="b" cx="2126.5" cy="691.9" r="11.6"/>
<circle class="b" cx="2085.8" cy="690.9" r="11.6"/>
<circle class="b" cx="2253.3" cy="678.4" r="11.6"/>
<circle class="b" cx="1523.4" cy="750.8" r="11.6"/>
<circle class="b" cx="1637.1" cy="717.9" r="11.6"/>
<circle class="b" cx="1886.4" cy="720.5" r="11.6"/>
<circle class="b" cx="1657.6" cy="740.0" r="11.6"/>
<circle class="b" cx="1809.4" cy="720.2" r="11.6"/>
<circle class="b" cx="1765.5" cy="756.4" r="11.6"/>
<circle class="b" cx="2023.2" cy="741.6" r="11.6"/>
<circle class="b" cx="1514.9" cy="761.2" r="11.6"/>
<circle class="b" cx="1692.1" cy="740.5" r="11.6"/>
<circle class="b" cx="1744.7" cy="749.6" r="11.6"/>
<circle class="b" cx="1146.4" cy="797.7" r="11.6"/>
<circle class="b" cx="2138.8" cy="646.3" r="11.6"/>
<circle class="b" cx="2352.2" cy="628.7" r="11.6"/>
<circle class="b" cx="1972.4" cy="684.1" r="11.6"/>
<circle class="b" cx="1617.3" cy="722.7" r="11.6"/>
<circle class="b" cx="2367.0" cy="667.8" r="11.6"/>
<circle class="b" cx="2241.9" cy="695.2" r="11.6"/>
<circle class="b" cx="2229.8" cy="702.1" r="11.6"/>
<circle class="b" cx="1675.1" cy="735.3" r="11.6"/>
<circle class="b" cx="1680.3" cy="709.2" r="11.6"/>
<circle class="b" cx="1613.5" cy="759.3" r="11.6"/>
<circle class="b" cx="2198.5" cy="637.2" r="11.6"/>
<circle class="b" cx="2256.6" cy="642.7" r="11.6"/>
<circle class="b" cx="2158.6" cy="788.0" r="11.6"/>
<circle class="b" cx="2095.3" cy="667.9" r="11.6"/>
<circle class="b" cx="1860.7" cy="753.9" r="11.6"/>
<circle class="b" cx="1386.6" cy="754.7" r="11.6"/>
<circle class="b" cx="1855.4" cy="693.1" r="11.6"/>
<circle class="b" cx="1741.9" cy="728.3" r="11.6"/>
<circle class="b" cx="1700.7" cy="720.7" r="11.6"/>
<circle class="b" cx="1943.8" cy="701.1" r="11.6"/>
<circle class="b" cx="1530.4" cy="777.7" r="11.6"/>
<circle class="b" cx="1841.0" cy="739.9" r="11.6"/>
<circle class="b" cx="2034.6" cy="665.4" r="11.6"/>
<circle class="b" cx="2350.8" cy="658.0" r="11.6"/>
<circle class="b" cx="2415.5" cy="621.0" r="11.6"/>
<circle class="b" cx="1220.6" cy="793.8" r="11.6"/>
<circle class="b" cx="1762.4" cy="719.2" r="11.6"/>
<circle class="b" cx="1971.9" cy="681.0" r="11.6"/>
<circle class="b" cx="2365.4" cy="646.9" r="11.6"/>
<circle class="b" cx="2426.2" cy="654.9" r="11.6"/>
<circle class="b" cx="1969.2" cy="699.3" r="11.6"/>
<circle class="b" cx="1909.1" cy="766.3" r="11.6"/>
<circle class="b" cx="2041.1" cy="661.1" r="11.6"/>
<circle class="b" cx="2086.2" cy="786.6" r="11.6"/>
<circle class="b" cx="1855.1" cy="686.4" r="11.6"/>
<circle class="b" cx="2325.9" cy="661.1" r="11.6"/>
<circle class="b" cx="1032.9" cy="792.7" r="11.6"/>
<circle class="b" cx="2182.6" cy="775.2" r="11.6"/>
<circle class="b" cx="2150.2" cy="781.3" r="11.6"/>
<circle class="b" cx="1671.5" cy="757.9" r="11.6"/>
<circle class="b" cx="1674.6" cy="720.0" r="11.6"/>
<circle class="b" cx="1412.7" cy="793.8" r="11.6"/>
<circle class="b" cx="2091.3" cy="685.2" r="11.6"/>
<circle class="b" cx="1643.8" cy="710.8" r="11.6"/>
<circle class="b" cx="1691.6" cy="717.7" r="11.6"/>
<circle class="b" cx="2354.0" cy="625.9" r="11.6"/>
<circle class="b" cx="2176.3" cy="782.2" r="11.6"/>
<circle class="b" cx="2134.9" cy="702.2" r="11.6"/>
<circle class="b" cx="2232.8" cy="646.1" r="11.6"/>
<circle class="b" cx="1803.7" cy="716.7" r="11.6"/>
<circle class="b" cx="2406.5" cy="645.6" r="11.6"/>
<circle class="b" cx="2568.5" cy="634.6" r="11.6"/>
<circle class="b" cx="2084.3" cy="694.2" r="11.6"/>
<circle class="b" cx="1797.6" cy="753.5" r="11.6"/>
<circle class="b" cx="2308.7" cy="641.5" r="11.6"/>
<circle class="b" cx="1597.9" cy="767.5" r="11.6"/>
<circle class="b" cx="2374.5" cy="624.7" r="11.6"/>
<circle class="b" cx="1930.2" cy="707.2" r="11.6"/>
<circle class="b" cx="1472.3" cy="778.6" r="11.6"/>
<circle class="b" cx="1763.7" cy="695.7" r="11.6"/>
<circle class="b" cx="2062.6" cy="716.1" r="11.6"/>
<circle class="b" cx="2202.6" cy="645.8" r="11.6"/>
<circle class="b" cx="1930.9" cy="687.9" r="11.6"/>
<circle class="b" cx="1224.5" cy="764.5" r="11.6"/>
<circle class="b" cx="2090.4" cy="715.1" r="11.6"/>
<circle class="b" cx="1645.0" cy="758.5" r="11.6"/>
<circle class="b" cx="1967.4" cy="741.9" r="11.6"/>
<circle class="b" cx="2131.0" cy="774.9" r="11.6"/>
<circle class="b" cx="2213.4" cy="672.8" r="11.6"/>
<circle class="b" cx="2193.1" cy="779.0" r="11.6"/>
<circle class="b" cx="2245.8" cy="691.7" r="11.6"/>
<circle class="b" cx="2414.0" cy="625.5" r="11.6"/>
<circle class="b" cx="2370.4" cy="656.3" r="11.6"/>
<circle class="b" cx="1860.4" cy="732.6" r="11.6"/>
<circle class="b" cx="2483.8" cy="624.1" r="11.6"/>
<circle class="b" cx="1824.2" cy="766.6" r="11.6"/>
<circle class="b" cx="1477.6" cy="772.6" r="11.6"/>
<circle class="b" cx="2075.3" cy="676.9" r="11.6"/>
<circle class="b" cx="2080.2" cy="743.8" r="11.6"/>
<circle class="b" cx="2015.8" cy="749.4" r="11.6"/>
<circle class="b" cx="2219.3" cy="686.7" r="11.6"/>
<circle class="b" cx="1773.4" cy="690.3" r="11.6"/>
<circle class="b" cx="2016.3" cy="687.4" r="11.6"/>
<circle class="b" cx="2085.7" cy="787.5" r="11.6"/>
<circle class="b" cx="2052.5" cy="792.8" r="11.6"/>
<circle class="b" cx="2489.3" cy="608.7" r="11.6"/>
<circle class="b" cx="1947.7" cy="664.4" r="11.6"/>
<circle class="b" cx="2368.0" cy="644.7" r="11.6"/>
<circle class="b" cx="2061.0" cy="685.8" r="11.6"/>
<circle class="b" cx="2068.4" cy="721.2" r="11.6"/>
<circle class="b" cx="1794.6" cy="724.4" r="11.6"/>
<circle class="b" cx="1520.5" cy="773.2" r="11.6"/>
<circle class="b" cx="2094.5" cy="700.0" r="11.6"/>
<circle class="b" cx="1852.5" cy="711.1" r="11.6"/>
<circle class="b" cx="2293.2" cy="634.9" r="11.6"/>
<circle class="b" cx="1682.3" cy="722.9" r="11.6"/>
<circle class="b" cx="1668.0" cy="744.1" r="11.6"/>
<circle class="b" cx="2178.5" cy="706.5" r="11.6"/>
<circle class="b" cx="2027.0" cy="708.0" r="11.6"/>
<circle class="b" cx="2110.1" cy="666.3" r="11.6"/>
<circle class="b" cx="1886.6" cy="694.4" r="11.6"/>
<circle class="b" cx="1610.1" cy="734.7" r="11.6"/>
<circle class="b" cx="1549.4" cy="747.8" r="11.6"/>
<circle class="b" cx="1622.8" cy="727.4" r="11.6"/>
<circle class="b" cx="2366.8" cy="629.7" r="11.6"/>
<circle class="b" cx="1516.3" cy="780.2" r="11.6"/>
<circle class="b" cx="1765.8" cy="694.6" r="11.6"/>
<circle class="b" cx="1678.5" cy="719.4" r="11.6"/>
<circle class="b" cx="2019.3" cy="674.4" r="11.6"/>
<circle class="b" cx="1684.6" cy="714.2" r="11.6"/>
<circle class="b" cx="1408.1" cy="760.5" r="11.6"/>
<circle class="b" cx="2068.7" cy="777.7" r="11.6"/>
<circle class="b" cx="2099.4" cy="733.9" r="11.6"/>
<circle class="b" cx="1427.3" cy="776.8" r="11.6"/>
<circle class="b" cx="1962.1" cy="734.4" r="11.6"/>
<circle class="b" cx="2218.9" cy="673.4" r="11.6"/>
<circle class="b" cx="1255.8" cy="795.7" r="11.6"/>
<circle class="b" cx="2012.4" cy="691.7" r="11.6"/>
<circle class="b" cx="1957.1" cy="720.4" r="11.6"/>
<circle class="b" cx="1228.4" cy="801.6" r="11.6"/>
<circle class="b" cx="2470.8" cy="632.8" r="11.6"/>
<circle class="b" cx="1970.7" cy="736.5" r="11.6"/>
<circle class="b" cx="1464.4" cy="753.1" r="11.6"/>
<circle class="b" cx="2366.1" cy="660.7" r="11.6"/>
<circle class="b" cx="1966.1" cy="803.4" r="11.6"/>
<circle class="b" cx="2155.2" cy="770.1" r="11.6"/>
<circle class="b" cx="2099.2" cy="731.4" r="11.6"/>
<circle class="b" cx="1745.0" cy="680.6" r="11.6"/>
<circle class="b" cx="1488.9" cy="775.3" r="11.6"/>
<circle class="b" cx="1612.3" cy="745.4" r="11.6"/>
<circle class="b" cx="879.3" cy="801.5" r="11.6"/>
<circle class="b" cx="1484.9" cy="759.5" r="11.6"/>
<circle class="b" cx="1718.1" cy="705.4" r="11.6"/>
<circle class="b" cx="1933.1" cy="742.3" r="11.6"/>
<circle class="b" cx="2332.2" cy="667.2" r="11.6"/>
<circle class="b" cx="1622.9" cy="742.2" r="11.6"/>
<circle class="b" cx="2017.3" cy="689.1" r="11.6"/>
<circle class="b" cx="1896.3" cy="723.1" r="11.6"/>
<circle class="b" cx="1792.7" cy="729.5" r="11.6"/>
<circle class="b" cx="1623.2" cy="735.3" r="11.6"/>
<circle class="b" cx="2075.5" cy="729.2" r="11.6"/>
<circle class="b" cx="2183.6" cy="687.7" r="11.6"/>
<circle class="b" cx="2223.7" cy="692.6" r="11.6"/>
<circle class="b" cx="1289.0" cy="770.3" r="11.6"/>
<circle class="b" cx="1948.6" cy="713.7" r="11.6"/>
<circle class="b" cx="2174.1" cy="690.4" r="11.6"/>
<circle class="b" cx="2284.5" cy="682.6" r="11.6"/>
<circle class="b" cx="1779.0" cy="761.8" r="11.6"/>
<circle class="b" cx="1661.8" cy="714.2" r="11.6"/>
<circle class="b" cx="1531.9" cy="741.3" r="11.6"/>
<circle class="b" cx="2118.3" cy="702.4" r="11.6"/>
<circle class="b" cx="1937.8" cy="682.7" r="11.6"/>
<circle class="b" cx="1914.6" cy="744.8" r="11.6"/>
<circle class="b" cx="1141.5" cy="785.9" r="11.6"/>
<circle class="b" cx="2291.0" cy="662.1" r="11.6"/>
<circle class="b" cx="2016.7" cy="684.5" r="11.6"/>
<circle class="b" cx="1589.7" cy="728.7" r="11.6"/>
<circle class="b" cx="2144.5" cy="689.9" r="11.6"/>
<circle class="b" cx="2010.3" cy="714.4" r="11.6"/>
<circle class="b" cx="2144.3" cy="715.3" r="11.6"/>
<circle class="b" cx="1598.2" cy="784.1" r="11.6"/>
<circle class="b" cx="2205.7" cy="676.0" r="11.6"/>
<circle class="b" cx="1496.0" cy="739.1" r="11.6"/>
<circle class="b" cx="1709.7" cy="727.0" r="11.6"/>
<circle class="b" cx="2311.9" cy="670.4" r="11.6"/>
<circle class="b" cx="1655.6" cy="738.9" r="11.6"/>
<circle class="b" cx="1954.2" cy="710.6" r="11.6"/>
<circle class="b" cx="1852.7" cy="661.3" r="11.6"/>
<circle class="b" cx="2377.5" cy="626.3" r="11.6"/>
<circle class="b" cx="2106.1" cy="666.8" r="11.6"/>
<circle class="b" cx="2038.0" cy="717.6" r="11.6"/>
<circle class="b" cx="824.5" cy="815.0" r="11.6"/>
<circle class="b" cx="1899.6" cy="740.1" r="11.6"/>
<circle class="b" cx="2009.1" cy="684.1" r="11.6"/>
<circle class="b" cx="2389.2" cy="636.4" r="11.6"/>
<circle class="b" cx="1747.9" cy="714.0" r="11.6"/>
<circle class="b" cx="1900.5" cy="751.2" r="11.6"/>
<circle class="b" cx="2185.1" cy="641.7" r="11.6"/>
<circle class="b" cx="2227.0" cy="640.7" r="11.6"/>
<circle class="b" cx="2416.2" cy="653.4" r="11.6"/>
<circle class="b" cx="2190.7" cy="682.6" r="11.6"/>
<circle class="b" cx="1433.5" cy="785.1" r="11.6"/>
<circle class="b" cx="2150.4" cy="693.5" r="11.6"/>
<circle class="b" cx="1683.0" cy="722.1" r="11.6"/>
<circle class="b" cx="2591.7" cy="643.5" r="11.6"/>
<circle class="b" cx="2366.3" cy="636.4" r="11.6"/>
<circle class="b" cx="1564.1" cy="743.3" r="11.6"/>
<circle class="b" cx="1872.3" cy="742.3" r="11.6"/>
<circle class="b" cx="1747.9" cy="759.5" r="11.6"/>
<circle class="b" cx="1947.9" cy="682.2" r="11.6"/>
<circle class="b" cx="2383.2" cy="657.7" r="11.6"/>
<circle class="b" cx="1894.1" cy="747.1" r="11.6"/>
<circle class="b" cx="1369.1" cy="758.6" r="11.6"/>
<circle class="b" cx="1915.1" cy="741.5" r="11.6"/>
<circle class="b" cx="2258.0" cy="762.4" r="11.6"/>
<circle class="b" cx="2012.5" cy="693.1" r="11.6"/>
<circle class="b" cx="1977.7" cy="712.5" r="11.6"/>
<circle class="b" cx="1525.3" cy="762.5" r="11.6"/>
<circle class="b" cx="1962.8" cy="716.7" r="11.6"/>
<circle class="b" cx="2568.5" cy="634.6" r="11.6"/>
<circle class="b" cx="673.8" cy="808.2" r="11.6"/>
<circle class="b" cx="2371.7" cy="618.0" r="11.6"/>
<circle class="b" cx="1579.3" cy="720.6" r="11.6"/>
<circle class="b" cx="1576.1" cy="746.9" r="11.6"/>
<circle class="b" cx="1674.2" cy="748.6" r="11.6"/>
<circle class="b" cx="1816.1" cy="714.7" r="11.6"/>
<circle class="b" cx="1796.6" cy="704.8" r="11.6"/>
<circle class="b" cx="2233.7" cy="691.5" r="11.6"/>
<circle class="b" cx="2075.0" cy="674.1" r="11.6"/>
<circle class="b" cx="2233.5" cy="688.8" r="11.6"/>
<circle class="b" cx="1572.2" cy="731.2" r="11.6"/>
<circle class="b" cx="1816.2" cy="748.5" r="11.6"/>
<circle class="b" cx="1489.1" cy="763.7" r="11.6"/>
<circle class="b" cx="1745.8" cy="755.3" r="11.6"/>
<circle class="b" cx="935.6" cy="799.8" r="11.6"/>
<circle class="b" cx="1951.0" cy="718.3" r="11.6"/>
<circle class="b" cx="2447.1" cy="642.8" r="11.6"/>
<circle class="b" cx="1648.8" cy="750.2" r="11.6"/>
<circle class="b" cx="2118.5" cy="653.7" r="11.6"/>
<circle class="b" cx="1996.3" cy="674.6" r="11.6"/>
<circle class="b" cx="1536.0" cy="737.9" r="11.6"/>
<circle class="b" cx="1853.0" cy="684.3" r="11.6"/>
<circle class="b" cx="2126.6" cy="776.4" r="11.6"/>
<circle class="b" cx="1447.3" cy="765.3" r="11.6"/>
<circle class="b" cx="2209.3" cy="709.2" r="11.6"/>
<circle class="b" cx="2674.1" cy="614.6" r="11.6"/>
<circle class="b" cx="1718.5" cy="771.5" r="11.6"/>
<circle class="b" cx="1624.7" cy="705.5" r="11.6"/>
<circle class="b" cx="1490.7" cy="775.5" r="11.6"/>
<circle class="b" cx="1592.3" cy="764.2" r="11.6"/>
<circle class="b" cx="1858.1" cy="713.9" r="11.6"/>
<circle class="b" cx="2318.7" cy="652.9" r="11.6"/>
<circle class="b" cx="2528.6" cy="681.7" r="11.6"/>
<circle class="b" cx="1599.0" cy="733.1" r="11.6"/>
<circle class="b" cx="2084.9" cy="669.8" r="11.6"/>
<circle class="b" cx="1947.8" cy="686.0" r="11.6"/>
<circle class="b" cx="1165.9" cy="780.1" r="11.6"/>
<circle class="b" cx="2174.3" cy="674.7" r="11.6"/>
<circle class="b" cx="1650.9" cy="768.4" r="11.6"/>
<circle class="b" cx="1780.3" cy="769.2" r="11.6"/>
<circle class="b" cx="2204.2" cy="656.9" r="11.6"/>
<circle class="b" cx="1784.5" cy="750.8" r="11.6"/>
<circle class="b" cx="2329.2" cy="668.7" r="11.6"/>
<circle class="b" cx="1721.7" cy="782.2" r="11.6"/>
<circle class="b" cx="1560.5" cy="746.9" r="11.6"/>
<circle class="b" cx="2188.6" cy="636.7" r="11.6"/>
<circle class="b" cx="2182.5" cy="653.7" r="11.6"/>
<circle class="b" cx="1654.2" cy="746.7" r="11.6"/>
<circle class="b" cx="1775.5" cy="725.1" r="11.6"/>
<circle class="b" cx="1388.6" cy="762.5" r="11.6"/>
<circle class="b" cx="2013.1" cy="787.1" r="11.6"/>
<circle class="b" cx="2485.0" cy="604.8" r="11.6"/>
<circle class="b" cx="2107.9" cy="693.2" r="11.6"/>
<circle class="b" cx="2034.9" cy="713.5" r="11.6"/>
<circle class="b" cx="1801.4" cy="684.0" r="11.6"/>
<circle class="b" cx="2279.6" cy="706.6" r="11.6"/>
<circle class="b" cx="2287.1" cy="675.6" r="11.6"/>
<circle class="b" cx="2085.7" cy="675.8" r="11.6"/>
<circle class="b" cx="2216.1" cy="699.8" r="11.6"/>
<circle class="b" cx="2254.3" cy="661.4" r="11.6"/>
<circle class="b" cx="1658.9" cy="733.9" r="11.6"/>
<circle class="b" cx="1524.9" cy="744.4" r="11.6"/>
<circle class="b" cx="1368.1" cy="748.8" r="11.6"/>
<circle class="b" cx="2199.7" cy="715.2" r="11.6"/>
<circle class="b" cx="1469.4" cy="791.1" r="11.6"/>
<circle class="b" cx="1684.4" cy="733.4" r="11.6"/>
<circle class="b" cx="1458.6" cy="781.7" r="11.6"/>
<circle class="b" cx="1716.5" cy="754.6" r="11.6"/>
<circle class="b" cx="879.3" cy="788.0" r="11.6"/>
<circle class="b" cx="1846.1" cy="711.0" r="11.6"/>
<circle class="b" cx="2021.1" cy="797.5" r="11.6"/>
<circle class="b" cx="1916.6" cy="722.8" r="11.6"/>
<circle class="b" cx="1388.6" cy="785.9" r="11.6"/>
<circle class="b" cx="1611.5" cy="769.6" r="11.6"/>
<circle class="b" cx="2084.2" cy="727.2" r="11.6"/>
<circle class="b" cx="2294.8" cy="685.1" r="11.6"/>
<circle class="b" cx="1777.1" cy="740.9" r="11.6"/>
<circle class="b" cx="1771.1" cy="731.3" r="11.6"/>
<circle class="b" cx="2182.6" cy="678.9" r="11.6"/>
<circle class="b" cx="1947.8" cy="665.9" r="11.6"/>
<circle class="b" cx="1514.2" cy="762.6" r="11.6"/>
<circle class="b" cx="1925.3" cy="742.0" r="11.6"/>
<circle class="b" cx="2162.3" cy="784.5" r="11.6"/>
<circle class="b" cx="2073.7" cy="798.7" r="11.6"/>
<circle class="b" cx="1879.8" cy="726.9" r="11.6"/>
<circle class="b" cx="2103.2" cy="684.6" r="11.6"/>
<circle class="b" cx="1963.7" cy="673.2" r="11.6"/>
<circle class="b" cx="2046.8" cy="711.2" r="11.6"/>
<circle class="b" cx="1735.9" cy="743.7" r="11.6"/>
<circle class="b" cx="2354.6" cy="648.6" r="11.6"/>
<circle class="b" cx="1888.1" cy="697.4" r="11.6"/>
<circle class="b" cx="2388.9" cy="623.3" r="11.6"/>
<circle class="b" cx="2330.8" cy="657.5" r="11.6"/>
<circle class="b" cx="2429.5" cy="634.4" r="11.6"/>
<circle class="b" cx="1815.2" cy="737.3" r="11.6"/>
<circle class="b" cx="1373.0" cy="785.9" r="11.6"/>
<circle class="b" cx="2353.3" cy="663.2" r="11.6"/>
<circle class="b" cx="1778.4" cy="766.2" r="11.6"/>
<circle class="b" cx="1878.4" cy="717.5" r="11.6"/>
<circle class="b" cx="2444.2" cy="627.7" r="11.6"/>
<circle class="b" cx="2169.7" cy="711.1" r="11.6"/>
<circle class="b" cx="1715.9" cy="767.1" r="11.6"/>
<circle class="b" cx="2182.0" cy="766.0" r="11.6"/>
<circle class="b" cx="2141.8" cy="677.3" r="11.6"/>
<circle class="b" cx="2082.0" cy="715.0" r="11.6"/>
<circle class="b" cx="1674.9" cy="731.9" r="11.6"/>
<circle class="b" cx="1577.0" cy="741.8" r="11.6"/>
<circle class="b" cx="2095.0" cy="661.7" r="11.6"/>
<circle class="b" cx="1833.4" cy="711.0" r="11.6"/>
<circle class="b" cx="1915.7" cy="681.7" r="11.6"/>
<circle class="b" cx="1792.4" cy="695.2" r="11.6"/>
<circle class="b" cx="2072.4" cy="716.2" r="11.6"/>
<circle class="b" cx="1759.6" cy="704.9" r="11.6"/>
<circle class="b" cx="1863.0" cy="696.8" r="11.6"/>
<circle class="b" cx="1874.9" cy="742.2" r="11.6"/>
<circle class="b" cx="1482.9" cy="767.0" r="11.6"/>
<circle class="b" cx="1841.9" cy="670.7" r="11.6"/>
<circle class="b" cx="2419.4" cy="627.2" r="11.6"/>
<circle class="b" cx="2152.3" cy="706.1" r="11.6"/>
<circle class="b" cx="2138.4" cy="776.2" r="11.6"/>
<circle class="b" cx="2430.4" cy="640.7" r="11.6"/>
<circle class="b" cx="2160.2" cy="765.5" r="11.6"/>
<circle class="b" cx="1281.2" cy="801.6" r="11.6"/>
<circle class="b" cx="1973.7" cy="677.2" r="11.6"/>
<circle class="b" cx="1713.6" cy="758.5" r="11.6"/>
<circle class="b" cx="2214.5" cy="662.3" r="11.6"/>
<circle class="b" cx="1813.9" cy="690.5" r="11.6"/>
<circle class="b" cx="1841.0" cy="724.6" r="11.6"/>
<circle class="b" cx="1898.4" cy="698.7" r="11.6"/>
<circle class="b" cx="1500.4" cy="777.5" r="11.6"/>
<circle class="b" cx="2177.9" cy="710.1" r="11.6"/>
<circle class="b" cx="2374.7" cy="648.1" r="11.6"/>
<circle class="b" cx="1960.8" cy="708.2" r="11.6"/>
<circle class="b" cx="2433.0" cy="622.0" r="11.6"/>
<circle class="b" cx="2323.8" cy="647.1" r="11.6"/>
<circle class="b" cx="1983.7" cy="762.9" r="11.6"/>
<circle class="b" cx="1871.8" cy="743.8" r="11.6"/>
<circle class="b" cx="1943.3" cy="691.3" r="11.6"/>
<circle class="b" cx="2481.2" cy="604.3" r="11.6"/>
<circle class="b" cx="2268.8" cy="666.9" r="11.6"/>
<circle class="b" cx="1986.2" cy="743.5" r="11.6"/>
<circle class="b" cx="1197.2" cy="778.1" r="11.6"/>
<circle class="b" cx="2667.4" cy="619.6" r="11.6"/>
<circle class="b" cx="1721.4" cy="750.0" r="11.6"/>
<circle class="b" cx="1207.0" cy="799.6" r="11.6"/>
<circle class="b" cx="2025.9" cy="713.7" r="11.6"/>
<circle class="b" cx="2110.9" cy="784.7" r="11.6"/>
<circle class="b" cx="1701.1" cy="756.2" r="11.6"/>
<circle class="b" cx="1790.7" cy="686.2" r="11.6"/>
<circle class="b" cx="2275.6" cy="656.1" r="11.6"/>
<circle class="b" cx="2367.2" cy="663.9" r="11.6"/>
<circle class="b" cx="1502.3" cy="787.7" r="11.6"/>
<circle class="b" cx="1902.0" cy="669.3" r="11.6"/>
<circle class="b" cx="1890.7" cy="695.0" r="11.6"/>
<circle class="b" cx="2667.4" cy="632.9" r="11.6"/>
<circle class="b" cx="2318.2" cy="634.5" r="11.6"/>
<circle class="b" cx="1674.9" cy="755.9" r="11.6"/>
<circle class="b" cx="2046.7" cy="676.6" r="11.6"/>
<circle class="b" cx="1999.2" cy="749.2" r="11.6"/>
<circle class="b" cx="2355.9" cy="657.0" r="11.6"/>
<circle class="b" cx="2051.5" cy="799.5" r="11.6"/>
<circle class="b" cx="2455.2" cy="624.7" r="11.6"/>
<circle class="b" cx="1921.2" cy="728.2" r="11.6"/>
<circle class="b" cx="2070.5" cy="792.3" r="11.6"/>
<circle class="b" cx="1011.8" cy="802.1" r="11.6"/>
<circle class="b" cx="2332.0" cy="660.5" r="11.6"/>
<circle class="b" cx="1678.6" cy="768.0" r="11.6"/>
<circle class="b" cx="2317.9" cy="664.8" r="11.6"/>
<circle class="b" cx="1601.3" cy="735.6" r="11.6"/>
<circle class="b" cx="2123.2" cy="783.3" r="11.6"/>
<circle class="b" cx="2379.0" cy="650.7" r="11.6"/>
<circle class="b" cx="2065.6" cy="788.9" r="11.6"/>
<circle class="b" cx="2473.2" cy="630.1" r="11.6"/>
<circle class="b" cx="1535.7" cy="757.6" r="11.6"/>
<circle class="b" cx="2416.3" cy="652.8" r="11.6"/>
<circle class="b" cx="2249.3" cy="669.4" r="11.6"/>
<circle class="b" cx="2161.5" cy="774.4" r="11.6"/>
<circle class="b" cx="1631.2" cy="729.2" r="11.6"/>
<circle class="b" cx="1904.9" cy="713.3" r="11.6"/>
<circle class="b" cx="2219.2" cy="644.1" r="11.6"/>
<circle class="b" cx="1671.3" cy="737.3" r="11.6"/>
<circle class="b" cx="1645.7" cy="758.3" r="11.6"/>
<circle class="b" cx="2071.0" cy="787.5" r="11.6"/>
<circle class="b" cx="1462.3" cy="784.0" r="11.6"/>
<circle class="b" cx="2248.5" cy="658.4" r="11.6"/>
<circle class="b" cx="2002.2" cy="738.7" r="11.6"/>
<circle class="b" cx="2085.3" cy="786.1" r="11.6"/>
<circle class="b" cx="1876.7" cy="671.9" r="11.6"/>
<circle class="b" cx="2118.5" cy="676.4" r="11.6"/>
<circle class="b" cx="1702.3" cy="751.1" r="11.6"/>
<circle class="b" cx="2098.9" cy="690.5" r="11.6"/>
<circle class="b" cx="1478.4" cy="746.9" r="11.6"/>
<circle class="b" cx="2131.0" cy="667.7" r="11.6"/>
<circle class="b" cx="1631.0" cy="746.4" r="11.6"/>
<circle class="b" cx="1952.3" cy="725.3" r="11.6"/>
<circle class="b" cx="2388.4" cy="617.1" r="11.6"/>
<circle class="b" cx="2146.5" cy="713.7" r="11.6"/>
<circle class="b" cx="1544.3" cy="739.3" r="11.6"/>
<circle class="b" cx="1342.7" cy="764.5" r="11.6"/>
<circle class="b" cx="1778.3" cy="721.6" r="11.6"/>
<circle class="b" cx="2274.5" cy="635.1" r="11.6"/>
<circle class="b" cx="1636.5" cy="771.4" r="11.6"/>
<circle class="b" cx="2338.6" cy="638.2" r="11.6"/>
<circle class="b" cx="903.9" cy="826.1" r="11.6"/>
<circle class="b" cx="2348.9" cy="668.9" r="11.6"/>
<circle class="b" cx="1678.2" cy="702.0" r="11.6"/>
<circle class="b" cx="2254.4" cy="641.2" r="11.6"/>
<circle class="b" cx="2128.3" cy="661.7" r="11.6"/>
<circle class="b" cx="2030.9" cy="741.6" r="11.6"/>
<circle class="b" cx="1646.6" cy="777.3" r="11.6"/>
<circle class="b" cx="1750.9" cy="734.2" r="11.6"/>
<circle class="b" cx="2344.1" cy="650.8" r="11.6"/>
<circle class="b" cx="1836.1" cy="720.5" r="11.6"/>
<circle class="b" cx="1521.4" cy="735.2" r="11.6"/>
<circle class="b" cx="2018.4" cy="688.1" r="11.6"/>
<circle class="b" cx="1691.3" cy="723.8" r="11.6"/>
<circle class="b" cx="1499.9" cy="756.6" r="11.6"/>
<circle class="b" cx="2116.3" cy="676.2" r="11.6"/>
<circle class="b" cx="1961.5" cy="677.9" r="11.6"/>
<circle class="b" cx="1660.8" cy="698.1" r="11.6"/>
<circle class="b" cx="1610.5" cy="748.0" r="11.6"/>
<circle class="b" cx="1171.8" cy="776.2" r="11.6"/>
<circle class="b" cx="1606.7" cy="717.2" r="11.6"/>
<circle class="b" cx="1904.2" cy="687.2" r="11.6"/>
<circle class="b" cx="2425.7" cy="659.5" r="11.6"/>
<circle class="b" cx="2467.0" cy="606.3" r="11.6"/>
<circle class="b" cx="1704.5" cy="729.3" r="11.6"/>
<circle class="b" cx="2037.3" cy="704.7" r="11.6"/>
<circle class="b" cx="2058.2" cy="644.7" r="11.6"/>
<circle class="b" cx="2211.3" cy="695.2" r="11.6"/>
<circle class="b" cx="2714.6" cy="607.0" r="11.6"/>
<circle class="b" cx="2404.1" cy="638.7" r="11.6"/>
<circle class="b" cx="1867.6" cy="718.5" r="11.6"/>
<circle class="b" cx="1854.2" cy="726.0" r="11.6"/>
<circle class="b" cx="1958.7" cy="704.2" r="11.6"/>
<circle class="b" cx="2243.7" cy="701.5" r="11.6"/>
<circle class="b" cx="2034.1" cy="694.6" r="11.6"/>
<circle class="b" cx="2147.4" cy="655.2" r="11.6"/>
<circle class="b" cx="1568.4" cy="772.6" r="11.6"/>
<circle class="b" cx="2434.2" cy="630.6" r="11.6"/>
<circle class="b" cx="2319.1" cy="673.0" r="11.6"/>
<circle class="b" cx="1706.4" cy="706.4" r="11.6"/>
<circle class="b" cx="1751.0" cy="705.5" r="11.6"/>
<circle class="b" cx="1820.4" cy="707.2" r="11.6"/>
<circle class="b" cx="2130.9" cy="777.7" r="11.6"/>
<circle class="b" cx="1684.3" cy="774.6" r="11.6"/>
<circle class="b" cx="2085.9" cy="688.7" r="11.6"/>
<circle class="b" cx="1308.5" cy="760.5" r="11.6"/>
<circle class="b" cx="2054.9" cy="803.4" r="11.6"/>
<circle class="b" cx="2393.3" cy="636.4" r="11.6"/>
<circle class="b" cx="1915.1" cy="757.9" r="11.6"/>
<circle class="b" cx="2342.7" cy="635.3" r="11.6"/>
<circle class="b" cx="2330.6" cy="667.6" r="11.6"/>
<circle class="b" cx="1640.3" cy="723.0" r="11.6"/>
<circle class="b" cx="2365.4" cy="663.0" r="11.6"/>
<circle class="b" cx="2161.6" cy="668.9" r="11.6"/>
<circle class="b" cx="1764.2" cy="725.8" r="11.6"/>
<circle class="b" cx="1590.3" cy="763.1" r="11.6"/>
<circle class="b" cx="1977.3" cy="757.1" r="11.6"/>
<circle class="b" cx="2005.9" cy="742.5" r="11.6"/>
<circle class="b" cx="1879.9" cy="664.9" r="11.6"/>
<circle class="b" cx="2050.6" cy="680.4" r="11.6"/>
<circle class="b" cx="2388.0" cy="620.8" r="11.6"/>
<circle class="b" cx="2122.5" cy="776.9" r="11.6"/>
<circle class="b" cx="2097.9" cy="730.0" r="11.6"/>
<circle class="b" cx="1734.4" cy="758.1" r="11.6"/>
<circle class="b" cx="2437.4" cy="637.2" r="11.6"/>
<circle class="b" cx="1830.1" cy="719.9" r="11.6"/>
<circle class="b" cx="1400.3" cy="758.6" r="11.6"/>
<circle class="b" cx="2251.9" cy="691.9" r="11.6"/>
<circle class="b" cx="2316.9" cy="637.9" r="11.6"/>
<circle class="b" cx="1655.9" cy="752.3" r="11.6"/>
<circle class="b" cx="2286.8" cy="665.0" r="11.6"/>
<circle class="b" cx="1898.8" cy="759.3" r="11.6"/>
<circle class="b" cx="2084.6" cy="717.2" r="11.6"/>
<circle class="b" cx="2428.0" cy="640.6" r="11.6"/>
<circle class="b" cx="2259.1" cy="670.2" r="11.6"/>
<circle class="b" cx="2412.5" cy="646.0" r="11.6"/>
<circle class="b" cx="2020.0" cy="720.7" r="11.6"/>
<circle class="b" cx="1896.4" cy="685.3" r="11.6"/>
<circle class="b" cx="1341.7" cy="756.6" r="11.6"/>
<circle class="b" cx="2362.6" cy="635.3" r="11.6"/>
<circle class="b" cx="1490.2" cy="746.9" r="11.6"/>
<circle class="b" cx="2012.1" cy="746.4" r="11.6"/>
<circle class="b" cx="1811.7" cy="721.7" r="11.6"/>
<circle class="b" cx="2787.0" cy="588.1" r="11.6"/>
<circle class="b" cx="2086.3" cy="789.7" r="11.6"/>
<circle class="b" cx="1062.7" cy="812.7" r="11.6"/>
<circle class="b" cx="2025.7" cy="745.4" r="11.6"/>
<circle class="b" cx="1531.2" cy="774.4" r="11.6"/>
<circle class="b" cx="2312.2" cy="649.3" r="11.6"/>
<circle class="b" cx="2114.2" cy="710.2" r="11.6"/>
<circle class="b" cx="2090.5" cy="737.0" r="11.6"/>
<circle class="b" cx="1914.6" cy="755.8" r="11.6"/>
<circle class="b" cx="1770.4" cy="754.2" r="11.6"/>
<circle class="b" cx="1733.7" cy="751.3" r="11.6"/>
<circle class="b" cx="2005.1" cy="707.2" r="11.6"/>
<circle class="b" cx="1665.9" cy="732.9" r="11.6"/>
<circle class="b" cx="1775.7" cy="688.4" r="11.6"/>
<circle class="b" cx="1979.9" cy="677.2" r="11.6"/>
<circle class="b" cx="2070.1" cy="642.3" r="11.6"/>
<circle class="b" cx="2199.2" cy="672.5" r="11.6"/>
<circle class="b" cx="2276.8" cy="676.4" r="11.6"/>
<circle class="b" cx="2171.2" cy="692.6" r="11.6"/>
<circle class="b" cx="2412.7" cy="617.9" r="11.6"/>
<circle class="b" cx="1727.5" cy="745.5" r="11.6"/>
<circle class="b" cx="1025.0" cy="778.7" r="11.6"/>
<circle class="b" cx="1942.5" cy="689.7" r="11.6"/>
<circle class="b" cx="2816.8" cy="613.0" r="11.6"/>
<circle class="b" cx="2368.0" cy="618.7" r="11.6"/>
<circle class="b" cx="2140.3" cy="670.7" r="11.6"/>
<circle class="b" cx="1995.6" cy="719.4" r="11.6"/>
<circle class="b" cx="1780.8" cy="687.8" r="11.6"/>
<circle class="b" cx="1907.1" cy="720.7" r="11.6"/>
<circle class="b" cx="2155.5" cy="677.5" r="11.6"/>
<circle class="b" cx="1700.7" cy="710.7" r="11.6"/>
<circle class="b" cx="2233.8" cy="684.6" r="11.6"/>
<circle class="b" cx="2481.5" cy="609.8" r="11.6"/>
<circle class="o" cx="1287.0" cy="844.5" r="11.6"/>
<circle class="o" cx="1919.7" cy="800.2" r="11.6"/>
<circle class="o" cx="1269.5" cy="866.0" r="11.6"/>
<circle class="o" cx="1828.9" cy="815.7" r="11.6"/>
<circle class="o" cx="1306.6" cy="838.7" r="11.6"/>
<circle class="o" cx="1879.2" cy="851.2" r="11.6"/>
<circle class="o" cx="1618.1" cy="843.9" r="11.6"/>
<circle class="o" cx="1799.1" cy="838.9" r="11.6"/>
<circle class="o" cx="1156.2" cy="859.2" r="11.6"/>
<circle class="o" cx="701.2" cy="813.2" r="11.6"/>
<circle class="o" cx="1262.6" cy="722.5" r="11.6"/>
<circle class="o" cx="550.5" cy="804.2" r="11.6"/>
<circle class="o" cx="1419.8" cy="864.1" r="11.6"/>
<circle class="o" cx="920.9" cy="832.6" r="11.6"/>
<circle class="o" cx="1822.3" cy="789.1" r="11.6"/>
<circle class="o" cx="1564.4" cy="825.0" r="11.6"/>
<circle class="o" cx="1342.7" cy="797.7" r="11.6"/>
<circle class="o" cx="1955.7" cy="787.1" r="11.6"/>
<circle class="o" cx="1792.4" cy="795.7" r="11.6"/>
<circle class="o" cx="1187.4" cy="851.4" r="11.6"/>
<circle class="o" cx="1943.5" cy="807.4" r="11.6"/>
<circle class="o" cx="1911.1" cy="791.9" r="11.6"/>
<circle class="o" cx="1713.5" cy="847.4" r="11.6"/>
<circle class="o" cx="1505.8" cy="829.8" r="11.6"/>
<circle class="o" cx="1505.8" cy="805.5" r="11.6"/>
<circle class="o" cx="1625.7" cy="852.2" r="11.6"/>
<circle class="o" cx="1759.4" cy="837.7" r="11.6"/>
<circle class="o" cx="1282.1" cy="831.8" r="11.6"/>
<circle class="o" cx="1332.0" cy="813.3" r="11.6"/>
<circle class="o" cx="1684.5" cy="862.1" r="11.6"/>
<circle class="o" cx="2239.8" cy="808.9" r="11.6"/>
<circle class="o" cx="1509.7" cy="764.5" r="11.6"/>
<circle class="o" cx="1904.0" cy="789.0" r="11.6"/>
<circle class="o" cx="1786.2" cy="836.1" r="11.6"/>
<circle class="o" cx="905.7" cy="810.3" r="11.6"/>
<circle class="o" cx="1419.8" cy="799.6" r="11.6"/>
<circle class="o" cx="1472.3" cy="829.1" r="11.6"/>
<circle class="o" cx="1968.4" cy="799.1" r="11.6"/>
<circle class="o" cx="1457.3" cy="827.1" r="11.6"/>
<circle class="o" cx="1726.1" cy="815.7" r="11.6"/>
<circle class="o" cx="1394.5" cy="878.7" r="11.6"/>
<circle class="o" cx="797.0" cy="842.5" r="11.6"/>
<circle class="o" cx="1702.8" cy="825.6" r="11.6"/>
<circle class="o" cx="1119.1" cy="762.5" r="11.6"/>
<circle class="o" cx="1659.2" cy="790.5" r="11.6"/>
<circle class="o" cx="1740.6" cy="811.0" r="11.6"/>
<circle class="o" cx="1847.8" cy="811.6" r="11.6"/>
<circle class="o" cx="1861.9" cy="821.8" r="11.6"/>
<circle class="o" cx="1020.5" cy="842.0" r="11.6"/>
<circle class="o" cx="1865.5" cy="757.6" r="11.6"/>
<circle class="o" cx="1909.4" cy="791.3" r="11.6"/>
<circle class="o" cx="1593.2" cy="825.6" r="11.6"/>
<circle class="o" cx="1827.3" cy="714.4" r="11.6"/>
<circle class="o" cx="2041.4" cy="784.1" r="11.6"/>
<circle class="o" cx="1686.2" cy="779.1" r="11.6"/>
<circle class="o" cx="1314.4" cy="832.8" r="11.6"/>
<circle class="o" cx="1893.9" cy="813.6" r="11.6"/>
<circle class="o" cx="1908.6" cy="719.4" r="11.6"/>
<circle class="o" cx="1492.4" cy="830.3" r="11.6"/>
<circle class="o" cx="1931.9" cy="792.4" r="11.6"/>
<circle class="o" cx="1903.9" cy="849.2" r="11.6"/>
<circle class="o" cx="2180.0" cy="805.5" r="11.6"/>
<circle class="o" cx="2674.1" cy="700.3" r="11.6"/>
<circle class="o" cx="1357.3" cy="876.8" r="11.6"/>
<circle class="o" cx="1905.3" cy="789.1" r="11.6"/>
<circle class="o" cx="1349.5" cy="875.8" r="11.6"/>
<circle class="o" cx="1470.8" cy="846.1" r="11.6"/>
<circle class="o" cx="1578.5" cy="843.5" r="11.6"/>
<circle class="o" cx="1872.1" cy="852.2" r="11.6"/>
<circle class="o" cx="1717.8" cy="825.8" r="11.6"/>
<circle class="o" cx="1632.8" cy="859.8" r="11.6"/>
<circle class="o" cx="1443.4" cy="867.2" r="11.6"/>
<circle class="o" cx="1773.4" cy="845.1" r="11.6"/>
<circle class="o" cx="1637.6" cy="817.6" r="11.6"/>
<circle class="o" cx="1332.0" cy="842.6" r="11.6"/>
<circle class="o" cx="1261.6" cy="828.9" r="11.6"/>
<circle class="o" cx="1164.0" cy="852.3" r="11.6"/>
<circle class="o" cx="1711.5" cy="853.6" r="11.6"/>
<circle class="o" cx="1921.0" cy="821.4" r="11.6"/>
<circle class="o" cx="1773.5" cy="817.1" r="11.6"/>
<circle class="o" cx="1339.8" cy="797.7" r="11.6"/>
<circle class="o" cx="1210.9" cy="819.1" r="11.6"/>
<circle class="o" cx="1214.8" cy="774.2" r="11.6"/>
<circle class="o" cx="673.8" cy="813.2" r="11.6"/>
<circle class="o" cx="1051.8" cy="853.7" r="11.6"/>
<circle class="o" cx="1604.4" cy="809.0" r="11.6"/>
<circle class="o" cx="1825.6" cy="674.6" r="11.6"/>
<circle class="o" cx="1773.9" cy="792.6" r="11.6"/>
<circle class="o" cx="1820.1" cy="789.5" r="11.6"/>
<circle class="o" cx="1175.7" cy="803.5" r="11.6"/>
<circle class="o" cx="1550.7" cy="836.7" r="11.6"/>
<circle class="o" cx="1648.0" cy="822.3" r="11.6"/>
<circle class="o" cx="1048.1" cy="810.3" r="11.6"/>
<circle class="o" cx="1602.8" cy="817.2" r="11.6"/>
<circle class="o" cx="928.0" cy="829.6" r="11.6"/>
<circle class="o" cx="1626.6" cy="823.6" r="11.6"/>
<circle class="o" cx="1584.3" cy="854.8" r="11.6"/>
<circle class="o" cx="1929.1" cy="816.1" r="11.6"/>
<circle class="o" cx="1302.7" cy="774.2" r="11.6"/>
<circle class="o" cx="1998.9" cy="830.7" r="11.6"/>
<circle class="o" cx="1095.6" cy="867.0" r="11.6"/>
<circle class="o" cx="1978.4" cy="805.7" r="11.6"/>
<circle class="o" cx="1366.1" cy="881.6" r="11.6"/>
<circle class="o" cx="1576.1" cy="799.6" r="11.6"/>
<circle class="o" cx="1264.6" cy="844.5" r="11.6"/>
<circle class="o" cx="1738.5" cy="814.1" r="11.6"/>
<circle class="o" cx="2303.8" cy="800.6" r="11.6"/>
<circle class="o" cx="1472.6" cy="848.4" r="11.6"/>
<circle class="o" cx="2157.7" cy="805.7" r="11.6"/>
<circle class="o" cx="1716.1" cy="779.1" r="11.6"/>
<circle class="o" cx="1672.9" cy="822.3" r="11.6"/>
<circle class="o" cx="2056.4" cy="822.3" r="11.6"/>
<circle class="o" cx="1044.6" cy="822.0" r="11.6"/>
<circle class="o" cx="2127.8" cy="805.7" r="11.6"/>
<circle class="o" cx="1509.7" cy="868.9" r="11.6"/>
<circle class="o" cx="1607.0" cy="797.3" r="11.6"/>
<circle class="o" cx="1540.2" cy="847.7" r="11.6"/>
<circle class="o" cx="1400.3" cy="780.1" r="11.6"/>
<circle class="o" cx="1876.4" cy="848.1" r="11.6"/>
<circle class="o" cx="1913.4" cy="797.6" r="11.6"/>
<circle class="o" cx="1632.8" cy="800.5" r="11.6"/>
<circle class="o" cx="1312.4" cy="884.6" r="11.6"/>
<circle class="o" cx="1381.8" cy="820.1" r="11.6"/>
<circle class="o" cx="1756.4" cy="805.8" r="11.6"/>
<circle class="o" cx="1627.2" cy="828.6" r="11.6"/>
<circle class="o" cx="837.0" cy="831.8" r="11.6"/>
<circle class="o" cx="1210.9" cy="845.5" r="11.6"/>
<circle class="o" cx="1419.8" cy="793.8" r="11.6"/>
<circle class="o" cx="1357.3" cy="815.2" r="11.6"/>
<circle class="o" cx="1842.2" cy="835.6" r="11.6"/>
<circle class="o" cx="1576.1" cy="789.8" r="11.6"/>
<circle class="o" cx="1235.3" cy="750.4" r="11.6"/>
<circle class="o" cx="1553.1" cy="800.2" r="11.6"/>
<circle class="o" cx="1531.9" cy="832.2" r="11.6"/>
<circle class="o" cx="1568.3" cy="813.3" r="11.6"/>
<circle class="o" cx="1807.7" cy="781.2" r="11.6"/>
<circle class="o" cx="1694.6" cy="859.7" r="11.6"/>
<circle class="o" cx="1802.4" cy="775.8" r="11.6"/>
<circle class="o" cx="1938.5" cy="848.9" r="11.6"/>
<circle class="o" cx="1745.9" cy="865.5" r="11.6"/>
<circle class="o" cx="2073.0" cy="792.4" r="11.6"/>
<circle class="o" cx="1659.6" cy="759.2" r="11.6"/>
<circle class="o" cx="1603.3" cy="842.7" r="11.6"/>
<circle class="o" cx="1146.4" cy="839.6" r="11.6"/>
<circle class="o" cx="1511.6" cy="817.2" r="11.6"/>
<circle class="o" cx="1998.3" cy="840.6" r="11.6"/>
<circle class="o" cx="1631.4" cy="863.8" r="11.6"/>
<circle class="o" cx="1774.8" cy="823.9" r="11.6"/>
<circle class="o" cx="1825.6" cy="828.9" r="11.6"/>
<circle class="o" cx="1367.1" cy="816.2" r="11.6"/>
<circle class="o" cx="1980.8" cy="826.2" r="11.6"/>
<circle class="o" cx="1631.4" cy="767.5" r="11.6"/>
<circle class="o" cx="2076.3" cy="835.6" r="11.6"/>
<circle class="o" cx="1501.9" cy="718.6" r="11.6"/>
<circle class="o" cx="1435.5" cy="852.3" r="11.6"/>
<circle class="o" cx="1551.5" cy="836.0" r="11.6"/>
<circle class="o" cx="1860.2" cy="816.5" r="11.6"/>
<circle class="o" cx="1341.7" cy="815.2" r="11.6"/>
<circle class="o" cx="1258.7" cy="824.0" r="11.6"/>
<circle class="o" cx="1521.4" cy="869.9" r="11.6"/>
<circle class="o" cx="1513.9" cy="836.7" r="11.6"/>
<circle class="o" cx="1615.3" cy="810.0" r="11.6"/>
<circle class="o" cx="1938.7" cy="789.9" r="11.6"/>
<circle class="o" cx="1966.1" cy="819.0" r="11.6"/>
<circle class="o" cx="1506.1" cy="812.4" r="11.6"/>
<circle class="o" cx="1281.2" cy="805.5" r="11.6"/>
<circle class="o" cx="1988.3" cy="835.6" r="11.6"/>
<circle class="o" cx="601.2" cy="807.5" r="11.6"/>
<circle class="o" cx="1339.8" cy="850.4" r="11.6"/>
<circle class="o" cx="1489.5" cy="807.7" r="11.6"/>
<circle class="o" cx="1417.9" cy="778.1" r="11.6"/>
<circle class="o" cx="1749.3" cy="822.3" r="11.6"/>
<circle class="o" cx="1692.8" cy="845.5" r="11.6"/>
<circle class="o" cx="1337.8" cy="856.2" r="11.6"/>
<circle class="o" cx="1896.2" cy="804.7" r="11.6"/>
<circle class="o" cx="1745.9" cy="789.1" r="11.6"/>
<circle class="o" cx="1965.1" cy="782.5" r="11.6"/>
<circle class="o" cx="1864.8" cy="694.5" r="11.6"/>
<circle class="o" cx="1371.0" cy="797.7" r="11.6"/>
<circle class="o" cx="1156.2" cy="746.9" r="11.6"/>
<circle class="o" cx="1798.0" cy="781.1" r="11.6"/>
<circle class="o" cx="1148.4" cy="846.5" r="11.6"/>
<circle class="o" cx="1914.6" cy="759.2" r="11.6"/>
<circle class="o" cx="1822.3" cy="852.2" r="11.6"/>
<circle class="o" cx="2186.6" cy="788.9" r="11.6"/>
<circle class="o" cx="913.3" cy="829.6" r="11.6"/>
<circle class="o" cx="1858.8" cy="802.4" r="11.6"/>
<circle class="o" cx="1948.5" cy="833.9" r="11.6"/>
<circle class="o" cx="1956.5" cy="821.3" r="11.6"/>
<circle class="o" cx="1255.8" cy="871.9" r="11.6"/>
<circle class="o" cx="1991.6" cy="809.0" r="11.6"/>
<circle class="o" cx="1568.4" cy="843.3" r="11.6"/>
<circle class="o" cx="1471.7" cy="847.1" r="11.6"/>
<circle class="o" cx="1340.7" cy="822.1" r="11.6"/>
<circle class="o" cx="1243.1" cy="866.0" r="11.6"/>
<circle class="o" cx="1523.5" cy="803.3" r="11.6"/>
<circle class="o" cx="1388.6" cy="860.2" r="11.6"/>
<circle class="o" cx="2293.6" cy="818.8" r="11.6"/>
<circle class="o" cx="1365.2" cy="844.5" r="11.6"/>
<circle class="o" cx="2112.8" cy="617.1" r="11.6"/>
<circle class="o" cx="1228.4" cy="841.6" r="11.6"/>
<circle class="o" cx="1593.2" cy="848.2" r="11.6"/>
<circle class="o" cx="1928.3" cy="793.1" r="11.6"/>
<circle class="o" cx="1872.1" cy="832.3" r="11.6"/>
<circle class="o" cx="1726.0" cy="785.8" r="11.6"/>
<circle class="o" cx="1954.0" cy="799.2" r="11.6"/>
<circle class="o" cx="1913.6" cy="837.9" r="11.6"/>
<circle class="o" cx="1709.4" cy="855.5" r="11.6"/>
<circle class="o" cx="2177.6" cy="802.4" r="11.6"/>
<circle class="o" cx="2097.2" cy="709.4" r="11.6"/>
<circle class="o" cx="1923.1" cy="787.4" r="11.6"/>
<circle class="o" cx="2376.9" cy="665.1" r="11.6"/>
<circle class="o" cx="1529.2" cy="844.5" r="11.6"/>
<circle class="o" cx="2213.2" cy="808.9" r="11.6"/>
<circle class="o" cx="1812.3" cy="765.9" r="11.6"/>
<circle class="o" cx="1468.6" cy="820.4" r="11.6"/>
<circle class="o" cx="2363.6" cy="777.3" r="11.6"/>
<circle class="o" cx="1483.2" cy="855.3" r="11.6"/>
<circle class="o" cx="2019.9" cy="799.1" r="11.6"/>
<circle class="o" cx="1635.6" cy="802.0" r="11.6"/>
<circle class="o" cx="1572.2" cy="860.2" r="11.6"/>
<circle class="o" cx="1577.1" cy="842.9" r="11.6"/>
<circle class="o" cx="1975.0" cy="769.2" r="11.6"/>
<circle class="o" cx="1316.3" cy="774.2" r="11.6"/>
<circle class="o" cx="1591.9" cy="854.7" r="11.6"/>
<circle class="o" cx="1497.0" cy="803.5" r="11.6"/>
<circle class="o" cx="1505.8" cy="848.4" r="11.6"/>
<circle class="o" cx="1625.4" cy="862.0" r="11.6"/>
<circle class="o" cx="1552.7" cy="748.8" r="11.6"/>
<circle class="o" cx="1772.5" cy="835.6" r="11.6"/>
<circle class="o" cx="1062.7" cy="820.9" r="11.6"/>
<circle class="o" cx="1550.7" cy="822.3" r="11.6"/>
<circle class="o" cx="1838.2" cy="816.2" r="11.6"/>
<circle class="o" cx="1482.3" cy="828.9" r="11.6"/>
<circle class="o" cx="1339.8" cy="827.0" r="11.6"/>
<circle class="o" cx="1551.0" cy="810.7" r="11.6"/>
<circle class="o" cx="1652.8" cy="837.2" r="11.6"/>
<circle class="o" cx="1496.5" cy="804.0" r="11.6"/>
<circle class="o" cx="1674.0" cy="832.3" r="11.6"/>
<circle class="o" cx="1540.9" cy="782.0" r="11.6"/>
<circle class="o" cx="1976.7" cy="674.6" r="11.6"/>
<circle class="o" cx="1860.8" cy="827.6" r="11.6"/>
<circle class="o" cx="1472.6" cy="743.9" r="11.6"/>
<circle class="o" cx="1706.1" cy="805.7" r="11.6"/>
<circle class="o" cx="1689.1" cy="855.1" r="11.6"/>
<circle class="o" cx="1497.0" cy="884.6" r="11.6"/>
<circle class="o" cx="1185.5" cy="800.6" r="11.6"/>
<circle class="o" cx="2732.5" cy="760.7" r="11.6"/>
<circle class="o" cx="1402.3" cy="852.3" r="11.6"/>
<circle class="o" cx="1623.1" cy="860.5" r="11.6"/>
<circle class="o" cx="1799.1" cy="852.2" r="11.6"/>
<circle class="o" cx="1175.7" cy="832.8" r="11.6"/>
<circle class="o" cx="1593.8" cy="811.6" r="11.6"/>
<circle class="o" cx="1723.8" cy="811.3" r="11.6"/>
<circle class="o" cx="1525.3" cy="852.3" r="11.6"/>
<circle class="o" cx="1540.9" cy="807.4" r="11.6"/>
<circle class="o" cx="1382.7" cy="825.0" r="11.6"/>
<circle class="o" cx="1448.5" cy="864.2" r="11.6"/>
<circle class="o" cx="1775.3" cy="860.8" r="11.6"/>
<circle class="o" cx="1852.2" cy="726.0" r="11.6"/>
<circle class="o" cx="1478.4" cy="836.7" r="11.6"/>
<circle class="o" cx="1458.9" cy="801.6" r="11.6"/>
<circle class="o" cx="1183.5" cy="834.8" r="11.6"/>
<circle class="o" cx="1629.7" cy="795.7" r="11.6"/>
<circle class="o" cx="1422.2" cy="707.4" r="11.6"/>
<circle class="o" cx="1468.7" cy="742.0" r="11.6"/>
<circle class="o" cx="1817.4" cy="832.8" r="11.6"/>
<circle class="o" cx="1562.4" cy="817.2" r="11.6"/>
<circle class="o" cx="1605.1" cy="807.5" r="11.6"/>
<circle class="o" cx="1386.6" cy="866.0" r="11.6"/>
<circle class="o" cx="1488.2" cy="840.6" r="11.6"/>
<circle class="o" cx="1535.0" cy="858.4" r="11.6"/>
<circle class="o" cx="1662.9" cy="848.9" r="11.6"/>
<circle class="o" cx="1792.4" cy="822.3" r="11.6"/>
<circle class="o" cx="1492.1" cy="797.7" r="11.6"/>
<circle class="o" cx="1504.8" cy="725.4" r="11.6"/>
<circle class="o" cx="1732.7" cy="832.3" r="11.6"/>
<circle class="o" cx="1548.8" cy="827.0" r="11.6"/>
<circle class="o" cx="2702.0" cy="549.9" r="11.6"/>
<circle class="o" cx="1599.8" cy="855.5" r="11.6"/>
<circle class="o" cx="1048.7" cy="831.4" r="11.6"/>
<circle class="o" cx="1415.9" cy="856.2" r="11.6"/>
<circle class="o" cx="1458.9" cy="835.1" r="11.6"/>
<circle class="o" cx="1458.9" cy="825.0" r="11.6"/>
<circle class="o" cx="1789.1" cy="789.1" r="11.6"/>
<circle class="o" cx="2338.0" cy="600.4" r="11.6"/>
<circle class="o" cx="1577.6" cy="834.2" r="11.6"/>
<circle class="o" cx="1946.7" cy="833.3" r="11.6"/>
<circle class="o" cx="1156.2" cy="854.3" r="11.6"/>
<circle class="o" cx="1966.6" cy="812.4" r="11.6"/>
<circle class="o" cx="1465.7" cy="840.6" r="11.6"/>
<circle class="o" cx="2141.1" cy="795.7" r="11.6"/>
<circle class="o" cx="1441.3" cy="868.0" r="11.6"/>
<circle class="o" cx="1591.5" cy="755.9" r="11.6"/>
<circle class="o" cx="1494.4" cy="843.1" r="11.6"/>
<circle class="o" cx="1114.2" cy="815.6" r="11.6"/>
<circle class="o" cx="1912.0" cy="812.3" r="11.6"/>
<circle class="o" cx="1811.4" cy="790.6" r="11.6"/>
<circle class="o" cx="2211.5" cy="787.3" r="11.6"/>
<circle class="o" cx="1990.5" cy="796.5" r="11.6"/>
<circle class="o" cx="1780.8" cy="762.5" r="11.6"/>
<circle class="o" cx="1709.4" cy="772.5" r="11.6"/>
<circle class="o" cx="1957.1" cy="848.1" r="11.6"/>
<circle class="o" cx="1668.0" cy="794.0" r="11.6"/>
<circle class="o" cx="2186.6" cy="772.3" r="11.6"/>
<circle class="o" cx="1700.0" cy="822.6" r="11.6"/>
<circle class="o" cx="1301.7" cy="832.8" r="11.6"/>
<circle class="o" cx="1468.6" cy="821.1" r="11.6"/>
<circle class="o" cx="1639.7" cy="792.4" r="11.6"/>
<circle class="o" cx="1753.1" cy="786.1" r="11.6"/>
<circle class="o" cx="1960.7" cy="792.8" r="11.6"/>
<circle class="o" cx="1565.1" cy="830.4" r="11.6"/>
<circle class="o" cx="1499.9" cy="844.5" r="11.6"/>
<circle class="o" cx="2194.9" cy="795.6" r="11.6"/>
<circle class="o" cx="1955.1" cy="852.2" r="11.6"/>
<circle class="o" cx="1646.3" cy="759.2" r="11.6"/>
<circle class="o" cx="1267.5" cy="785.9" r="11.6"/>
<circle class="o" cx="1779.1" cy="825.6" r="11.6"/>
<circle class="o" cx="1998.5" cy="829.7" r="11.6"/>
<circle class="o" cx="1995.0" cy="775.8" r="11.6"/>
<circle class="o" cx="1509.7" cy="825.0" r="11.6"/>
<circle class="o" cx="1388.6" cy="871.9" r="11.6"/>
<circle class="o" cx="1574.3" cy="851.5" r="11.6"/>
<circle class="o" cx="1925.4" cy="838.5" r="11.6"/>
<circle class="o" cx="1519.5" cy="830.9" r="11.6"/>
<circle class="o" cx="2214.9" cy="802.2" r="11.6"/>
<circle class="o" cx="1838.0" cy="782.0" r="11.6"/>
<circle class="o" cx="929.1" cy="798.6" r="11.6"/>
<circle class="o" cx="2275.3" cy="798.9" r="11.6"/>
<circle class="o" cx="1753.9" cy="791.2" r="11.6"/>
<circle class="o" cx="1348.2" cy="725.4" r="11.6"/>
<circle class="o" cx="1553.6" cy="868.0" r="11.6"/>
<circle class="o" cx="1772.5" cy="795.7" r="11.6"/>
<circle class="o" cx="1887.6" cy="853.1" r="11.6"/>
<circle class="o" cx="1419.8" cy="806.4" r="11.6"/>
<circle class="o" cx="2117.8" cy="757.6" r="11.6"/>
<circle class="o" cx="1764.0" cy="797.6" r="11.6"/>
<circle class="o" cx="1766.9" cy="809.0" r="11.6"/>
<circle class="o" cx="1838.9" cy="805.7" r="11.6"/>
<circle class="o" cx="1950.7" cy="806.4" r="11.6"/>
<circle class="o" cx="1613.1" cy="819.0" r="11.6"/>
<circle class="o" cx="1748.9" cy="846.6" r="11.6"/>
<circle class="o" cx="1135.7" cy="826.0" r="11.6"/>
<circle class="o" cx="1824.1" cy="789.7" r="11.6"/>
<circle class="o" cx="1852.2" cy="772.5" r="11.6"/>
<circle class="o" cx="2031.5" cy="822.3" r="11.6"/>
<circle class="o" cx="2157.7" cy="751.9" r="11.6"/>
<circle class="o" cx="673.8" cy="792.0" r="11.6"/>
<circle class="o" cx="1175.7" cy="871.9" r="11.6"/>
<circle class="o" cx="1491.7" cy="848.1" r="11.6"/>
<circle class="o" cx="1912.0" cy="772.5" r="11.6"/>
<circle class="o" cx="1128.4" cy="868.9" r="11.6"/>
<circle class="o" cx="1423.8" cy="826.0" r="11.6"/>
<circle class="o" cx="1766.0" cy="804.9" r="11.6"/>
<circle class="o" cx="1130.8" cy="834.8" r="11.6"/>
<circle class="o" cx="1526.0" cy="814.6" r="11.6"/>
<circle class="o" cx="1895.4" cy="832.3" r="11.6"/>
<circle class="o" cx="1936.9" cy="689.5" r="11.6"/>
<circle class="o" cx="1820.2" cy="786.4" r="11.6"/>
<circle class="o" cx="1672.2" cy="838.3" r="11.6"/>
<circle class="o" cx="1954.9" cy="821.0" r="11.6"/>
<circle class="o" cx="1885.4" cy="815.7" r="11.6"/>
<circle class="o" cx="1463.4" cy="856.9" r="11.6"/>
<circle class="o" cx="2438.3" cy="786.3" r="11.6"/>
<circle class="o" cx="1419.8" cy="785.9" r="11.6"/>
<circle class="o" cx="1759.2" cy="838.9" r="11.6"/>
<circle class="o" cx="1730.1" cy="804.5" r="11.6"/>
<circle class="o" cx="1439.4" cy="782.0" r="11.6"/>
<circle class="o" cx="1996.6" cy="789.1" r="11.6"/>
<circle class="o" cx="1412.0" cy="846.5" r="11.6"/>
<circle class="o" cx="2096.2" cy="815.7" r="11.6"/>
<circle class="o" cx="641.2" cy="804.2" r="11.6"/>
<circle class="o" cx="1722.7" cy="862.1" r="11.6"/>
<circle class="o" cx="1662.9" cy="772.5" r="11.6"/>
<circle class="o" cx="1708.6" cy="822.9" r="11.6"/>
<circle class="o" cx="1875.4" cy="772.5" r="11.6"/>
<circle class="o" cx="1451.1" cy="886.5" r="11.6"/>
<circle class="o" cx="1889.4" cy="823.4" r="11.6"/>
<circle class="o" cx="1382.7" cy="832.8" r="11.6"/>
<circle class="o" cx="1186.4" cy="803.5" r="11.6"/>
<circle class="o" cx="1433.5" cy="845.5" r="11.6"/>
<circle class="o" cx="1470.7" cy="846.8" r="11.6"/>
<circle class="o" cx="1267.5" cy="768.4" r="11.6"/>
<circle class="o" cx="1721.7" cy="737.6" r="11.6"/>
<circle class="o" cx="1857.5" cy="787.8" r="11.6"/>
<circle class="o" cx="1820.6" cy="872.8" r="11.6"/>
<circle class="o" cx="1494.1" cy="834.8" r="11.6"/>
<circle class="o" cx="1716.1" cy="812.3" r="11.6"/>
<circle class="o" cx="2506.4" cy="765.7" r="11.6"/>
<circle class="o" cx="1212.8" cy="777.1" r="11.6"/>
<circle class="o" cx="1888.8" cy="793.4" r="11.6"/>
<circle class="o" cx="1957.8" cy="788.7" r="11.6"/>
<circle class="o" cx="1649.6" cy="862.1" r="11.6"/>
<circle class="o" cx="1908.6" cy="832.3" r="11.6"/>
<circle class="o" cx="1457.0" cy="832.8" r="11.6"/>
<circle class="o" cx="1932.3" cy="791.5" r="11.6"/>
<circle class="o" cx="1656.3" cy="835.6" r="11.6"/>
<circle class="o" cx="1721.0" cy="855.7" r="11.6"/>
<circle class="o" cx="1918.6" cy="825.6" r="11.6"/>
<circle class="o" cx="2201.6" cy="754.7" r="11.6"/>
<circle class="o" cx="1699.5" cy="752.6" r="11.6"/>
<circle class="o" cx="1553.9" cy="804.9" r="11.6"/>
<circle class="o" cx="1870.8" cy="837.6" r="11.6"/>
<circle class="o" cx="972.5" cy="773.4" r="11.6"/>
<circle class="o" cx="1051.8" cy="766.4" r="11.6"/>
<circle class="o" cx="1453.0" cy="858.2" r="11.6"/>
<circle class="o" cx="1226.5" cy="797.7" r="11.6"/>
<circle class="o" cx="1892.0" cy="775.8" r="11.6"/>
<circle class="o" cx="2119.5" cy="732.7" r="11.6"/>
<circle class="o" cx="1459.9" cy="819.1" r="11.6"/>
<circle class="o" cx="1394.5" cy="812.3" r="11.6"/>
<circle class="o" cx="1320.2" cy="859.2" r="11.6"/>
<circle class="o" cx="478.0" cy="793.8" r="11.6"/>
<circle class="o" cx="1888.4" cy="816.2" r="11.6"/>
</g>
<line x1="360" y1="192" x2="2813" y2="192" stroke="#000" stroke-width="12" stroke-dasharray="42.5 17.1" stroke-dashoffset="7.6"/>
<text class="ttl" x="354" y="103.8">Current speed record for an isolated gate operation</text>
<text class="tk" x="274" y="205.7" text-anchor="end">10<tspan class="sup" dy="-35">−8</tspan></text>
<text class="tk" x="278" y="334.9" text-anchor="end">10<tspan class="sup" dy="-35">−10</tspan></text>
<text class="tk" x="278" y="464.1" text-anchor="end">10<tspan class="sup" dy="-35">−12</tspan></text>
<text class="tk" x="278" y="593.3" text-anchor="end">10<tspan class="sup" dy="-35">−14</tspan></text>
<text class="tk" x="278" y="722.5" text-anchor="end">10<tspan class="sup" dy="-35">−16</tspan></text>
<text class="tk" x="278" y="851.7" text-anchor="end">10<tspan class="sup" dy="-35">−18</tspan></text>
<text class="tk" x="350.1" y="1051.5" text-anchor="middle">10<tspan class="sup" dx="1" dy="-35">0</tspan></text>
<text class="tk" x="760.5" y="1051.5" text-anchor="middle">10<tspan class="sup" dx="1" dy="-35">1</tspan></text>
<text class="tk" x="1170.8" y="1051.5" text-anchor="middle">10<tspan class="sup" dx="1" dy="-35">2</tspan></text>
<text class="tk" x="1581.2" y="1051.5" text-anchor="middle">10<tspan class="sup" dx="1" dy="-35">3</tspan></text>
<text class="tk" x="1991.5" y="1051.5" text-anchor="middle">10<tspan class="sup" dx="1" dy="-35">4</tspan></text>
<text class="tk" x="2401.8" y="1051.5" text-anchor="middle">10<tspan class="sup" dx="1" dy="-35">5</tspan></text>
<text class="tk" x="2812.2" y="1051.5" text-anchor="middle">10<tspan class="sup" dx="1" dy="-35">6</tspan></text>
<text class="lab" y="1138"><tspan x="1287">problem size:</tspan><tspan class="dv" x="1624.9">min</tspan><tspan class="dv" x="1728.4">(</tspan><tspan class="dv" x="1748.8" font-style="oblique">n</tspan><tspan class="dv" x="1783">,</tspan><tspan class="dv" x="1810.9" font-style="oblique">m</tspan><tspan class="dv" x="1863.5">)</tspan></text>
<text class="lab" transform="translate(54,541.5) rotate(-90)" text-anchor="middle">required quantum</text>
<text class="lab" transform="translate(111.3,770.85) rotate(-90)">runtime per gate <tspan class="dv" dx="0">(</tspan><tspan class="dv" font-style="oblique" dx="-3">s</tspan><tspan class="dv" dx="-1">)</tspan></text>
<rect x="2253.7" y="22.8" width="637.8" height="87.2" rx="7.5" ry="7.5" fill="#ECECF4" stroke="#D5D5D5" stroke-width="7.4"/>
<circle cx="2322.7" cy="67" r="26.5" fill="#4C72B0"/>
<circle cx="2668.7" cy="67" r="26.5" fill="#DD8452"/>
<text x="2412" y="80" style="font-size:50px">E<tspan style="font-size:37px">ASY</tspan></text>
<text x="2757" y="80" style="font-size:50px">H<tspan style="font-size:37px">ARD</tspan></text>
</svg>
</body></html>
